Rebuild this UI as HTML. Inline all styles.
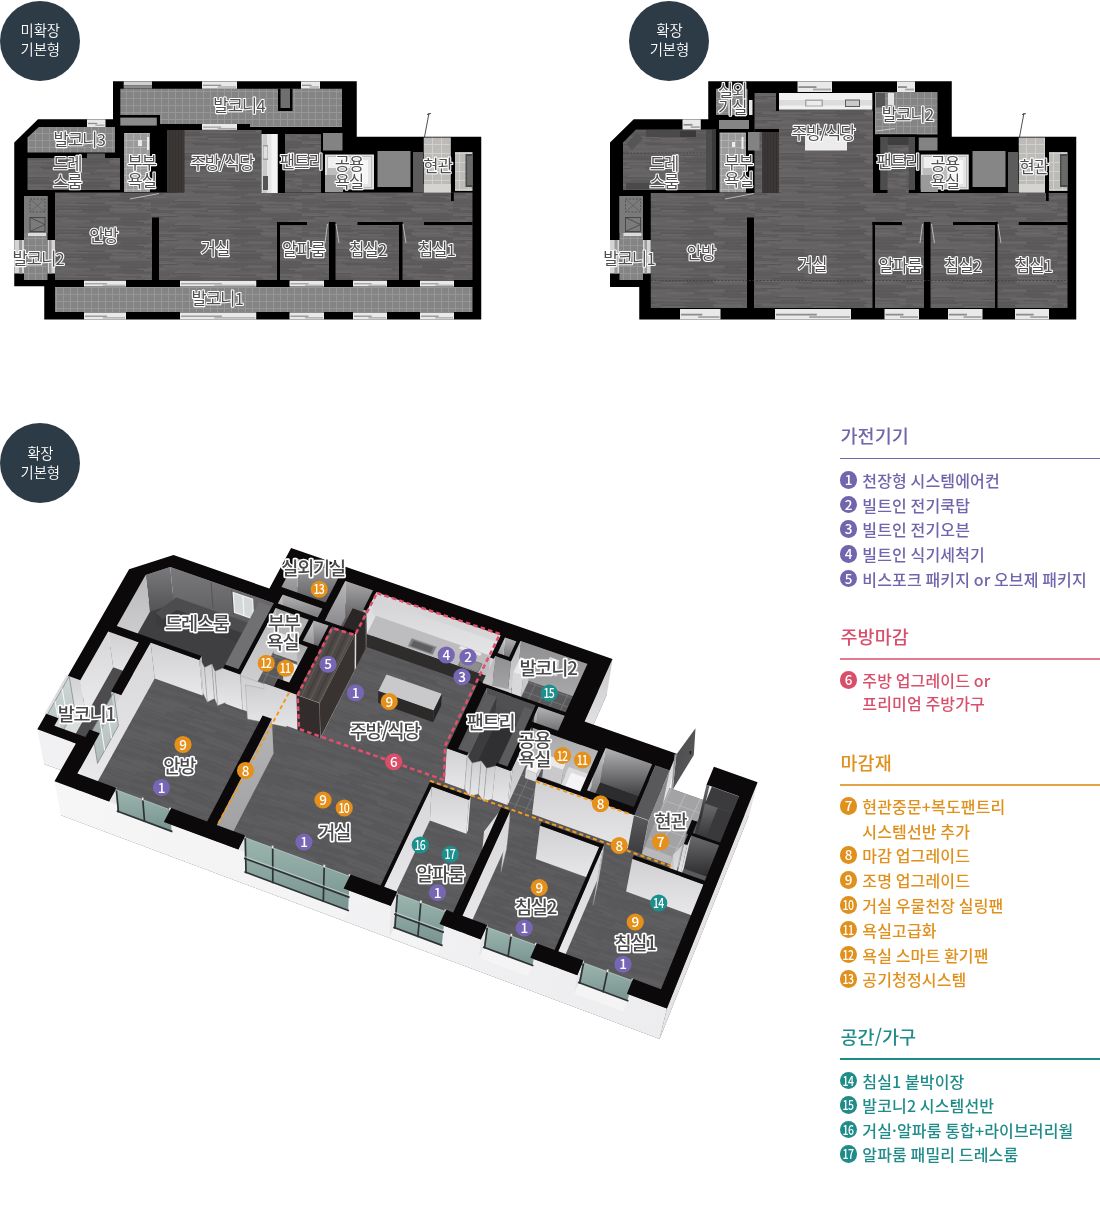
<!DOCTYPE html>
<html lang="ko">
<head>
<meta charset="utf-8">
<title>평면도 - 확장 기본형 옵션 안내</title>
<style>
html,body{margin:0;padding:0;background:#fff;}
body{width:1100px;height:1214px;position:relative;overflow:hidden;font-family:"Liberation Sans","Noto Sans CJK KR",sans-serif;}
.badge{position:absolute;width:80px;height:80px;border-radius:50%;background:#2d3b47;color:#fff;text-align:center;font-size:14.4px;line-height:18.9px;font-weight:350;letter-spacing:-0.1px;}
.badge span{display:block;text-indent:0.8px;}
.badge.one{padding-top:0}
#plans{position:absolute;left:0;top:0;width:1100px;height:1214px;}
.legend,.badge{filter:opacity(1);}/*noLCD*/
.legend{position:absolute;left:840px;width:260px;}
.legend h2{position:absolute;left:0.6px;margin:0;font-family:"Noto Sans CJK KR","Liberation Sans",sans-serif;font-size:18.5px;line-height:24px;font-weight:500;white-space:nowrap;}
.legend .rule{position:absolute;left:0;width:260px;height:1.6px;margin-top:0.3px;}
.legend ul{list-style:none;margin:0;padding:0;}
.legend li{position:absolute;left:0;height:24px;line-height:24px;font-family:"Noto Sans CJK KR","Liberation Sans",sans-serif;font-size:16px;font-weight:500;letter-spacing:0.15px;word-spacing:-1px;white-space:nowrap;padding-left:22.3px;}
.legend li i{position:absolute;left:0.1px;top:3.3px;width:17.4px;height:17.4px;border-radius:50%;color:#fff;font-family:"Noto Sans CJK KR","Liberation Sans",sans-serif;font-style:normal;font-weight:500;font-size:13.5px;line-height:17.2px;text-align:center;}
.legend li i.w span{display:inline-block;transform:scaleX(0.78);letter-spacing:-0.8px;margin-left:-3px;margin-right:-2.2px;}
.c1 h2,.c1 li{color:#7264ad}.c1 .rule,.c1 i{background:#7264ad}
.c2 h2,.c2 li{color:#d84f6b}.c2 .rule{background:#e27b90}.c2 i{background:#d84f6b}
.c3 h2,.c3 li{color:#e0901c}.c3 .rule{background:#e5a443}.c3 i{background:#e0901c}
.c4 h2,.c4 li{color:#1f8c8a}.c4 .rule,.c4 i{background:#1f8c8a}
svg text{font-family:"Noto Sans CJK KR","Liberation Sans",sans-serif;}
</style>
</head>
<body>
<svg id="plans" width="1100" height="1214" viewBox="0 0 1100 1214">
<defs>
<pattern id="wood" width="151" height="24" patternUnits="userSpaceOnUse"><rect width="151" height="24" fill="#626060"/><rect x="0.0" y="0.0" width="6.0" height="1.5" fill="#5e5c5c"/><rect x="6.0" y="0.0" width="21.3" height="1.5" fill="#595757"/><rect x="27.3" y="0.0" width="15.7" height="1.5" fill="#656363"/><rect x="43.0" y="0.0" width="22.5" height="1.5" fill="#595757"/><rect x="65.5" y="0.0" width="25.7" height="1.5" fill="#5b5959"/><rect x="91.2" y="0.0" width="33.5" height="1.5" fill="#5b5959"/><rect x="124.7" y="0.0" width="22.4" height="1.5" fill="#5b5959"/><rect x="147.1" y="0.0" width="3.9" height="1.5" fill="#5b5959"/><rect x="0.0" y="1.5" width="12.3" height="1.5" fill="#5b5959"/><rect x="12.3" y="1.5" width="23.9" height="1.5" fill="#696767"/><rect x="36.2" y="1.5" width="32.5" height="1.5" fill="#666464"/><rect x="68.7" y="1.5" width="28.0" height="1.5" fill="#5e5c5c"/><rect x="96.7" y="1.5" width="23.9" height="1.5" fill="#696767"/><rect x="120.6" y="1.5" width="30.4" height="1.5" fill="#5c5a5a"/><rect x="0.0" y="3.0" width="21.0" height="1.5" fill="#646262"/><rect x="21.0" y="3.0" width="29.3" height="1.5" fill="#666464"/><rect x="50.3" y="3.0" width="23.9" height="1.5" fill="#656363"/><rect x="74.3" y="3.0" width="19.4" height="1.5" fill="#5e5c5c"/><rect x="93.7" y="3.0" width="26.9" height="1.5" fill="#666464"/><rect x="120.6" y="3.0" width="27.4" height="1.5" fill="#595757"/><rect x="148.0" y="3.0" width="3.0" height="1.5" fill="#656363"/><rect x="0.0" y="4.5" width="14.6" height="1.5" fill="#6a6868"/><rect x="62.3" y="4.5" width="27.7" height="1.5" fill="#6a6868"/><rect x="89.9" y="4.5" width="17.5" height="1.5" fill="#5b5959"/><rect x="107.4" y="4.5" width="30.6" height="1.5" fill="#5d5b5b"/><rect x="138.1" y="4.5" width="12.9" height="1.5" fill="#686666"/><rect x="26.9" y="6.0" width="33.0" height="1.5" fill="#676565"/><rect x="60.0" y="6.0" width="23.6" height="1.5" fill="#656363"/><rect x="83.6" y="6.0" width="18.2" height="1.5" fill="#5e5c5c"/><rect x="117.8" y="6.0" width="26.3" height="1.5" fill="#595757"/><rect x="144.1" y="6.0" width="6.9" height="1.5" fill="#6a6868"/><rect x="0.0" y="7.5" width="0.2" height="1.5" fill="#6a6868"/><rect x="0.2" y="7.5" width="23.7" height="1.5" fill="#5e5c5c"/><rect x="23.9" y="7.5" width="28.8" height="1.5" fill="#696767"/><rect x="52.7" y="7.5" width="14.5" height="1.5" fill="#656363"/><rect x="109.6" y="7.5" width="21.1" height="1.5" fill="#5b5959"/><rect x="130.7" y="7.5" width="20.3" height="1.5" fill="#5b5959"/><rect x="0.0" y="9.0" width="20.9" height="1.5" fill="#5e5c5c"/><rect x="20.9" y="9.0" width="28.6" height="1.5" fill="#5a5858"/><rect x="67.4" y="9.0" width="33.8" height="1.5" fill="#656363"/><rect x="101.2" y="9.0" width="23.4" height="1.5" fill="#656363"/><rect x="124.6" y="9.0" width="26.4" height="1.5" fill="#5c5a5a"/><rect x="0.0" y="10.5" width="18.2" height="1.5" fill="#5c5a5a"/><rect x="76.4" y="10.5" width="28.5" height="1.5" fill="#595757"/><rect x="104.9" y="10.5" width="25.8" height="1.5" fill="#696767"/><rect x="130.7" y="10.5" width="20.3" height="1.5" fill="#686666"/><rect x="26.5" y="12.0" width="22.7" height="1.5" fill="#5a5858"/><rect x="49.2" y="12.0" width="19.0" height="1.5" fill="#676565"/><rect x="68.2" y="12.0" width="20.5" height="1.5" fill="#696767"/><rect x="117.5" y="12.0" width="24.3" height="1.5" fill="#5b5959"/><rect x="141.9" y="12.0" width="9.1" height="1.5" fill="#696767"/><rect x="0.0" y="13.5" width="19.1" height="1.5" fill="#5d5b5b"/><rect x="19.1" y="13.5" width="25.1" height="1.5" fill="#595757"/><rect x="44.2" y="13.5" width="17.8" height="1.5" fill="#5a5858"/><rect x="62.0" y="13.5" width="25.2" height="1.5" fill="#5c5a5a"/><rect x="87.3" y="13.5" width="24.1" height="1.5" fill="#5a5858"/><rect x="111.4" y="13.5" width="24.7" height="1.5" fill="#676565"/><rect x="0.0" y="15.0" width="16.1" height="1.5" fill="#656363"/><rect x="16.1" y="15.0" width="15.5" height="1.5" fill="#5c5a5a"/><rect x="31.5" y="15.0" width="20.1" height="1.5" fill="#595757"/><rect x="79.9" y="15.0" width="33.4" height="1.5" fill="#5a5858"/><rect x="144.9" y="15.0" width="6.1" height="1.5" fill="#6a6868"/><rect x="0.0" y="16.5" width="6.8" height="1.5" fill="#5a5858"/><rect x="6.8" y="16.5" width="25.1" height="1.5" fill="#696767"/><rect x="31.9" y="16.5" width="24.3" height="1.5" fill="#676565"/><rect x="56.2" y="16.5" width="33.7" height="1.5" fill="#595757"/><rect x="89.9" y="16.5" width="19.3" height="1.5" fill="#595757"/><rect x="109.3" y="16.5" width="29.1" height="1.5" fill="#6a6868"/><rect x="0.0" y="18.0" width="8.6" height="1.5" fill="#5d5b5b"/><rect x="8.6" y="18.0" width="17.7" height="1.5" fill="#5d5b5b"/><rect x="42.0" y="18.0" width="15.3" height="1.5" fill="#5c5a5a"/><rect x="57.4" y="18.0" width="25.1" height="1.5" fill="#686666"/><rect x="82.4" y="18.0" width="28.2" height="1.5" fill="#595757"/><rect x="110.6" y="18.0" width="17.6" height="1.5" fill="#686666"/><rect x="128.3" y="18.0" width="18.1" height="1.5" fill="#676565"/><rect x="146.4" y="18.0" width="4.6" height="1.5" fill="#595757"/><rect x="0.0" y="19.5" width="23.5" height="1.5" fill="#5c5a5a"/><rect x="23.5" y="19.5" width="22.9" height="1.5" fill="#686666"/><rect x="78.2" y="19.5" width="20.9" height="1.5" fill="#5c5a5a"/><rect x="99.1" y="19.5" width="15.1" height="1.5" fill="#5f5d5d"/><rect x="114.1" y="19.5" width="31.6" height="1.5" fill="#656363"/><rect x="145.7" y="19.5" width="5.3" height="1.5" fill="#686666"/><rect x="0.0" y="21.0" width="16.2" height="1.5" fill="#676565"/><rect x="49.4" y="21.0" width="20.2" height="1.5" fill="#656363"/><rect x="69.6" y="21.0" width="15.7" height="1.5" fill="#676565"/><rect x="109.4" y="21.0" width="16.9" height="1.5" fill="#5c5a5a"/><rect x="126.2" y="21.0" width="24.8" height="1.5" fill="#5b5959"/><rect x="0.0" y="22.5" width="1.6" height="1.5" fill="#696767"/><rect x="1.6" y="22.5" width="23.9" height="1.5" fill="#696767"/><rect x="40.4" y="22.5" width="16.8" height="1.5" fill="#5a5858"/><rect x="57.2" y="22.5" width="31.9" height="1.5" fill="#5e5c5c"/><rect x="89.0" y="22.5" width="26.7" height="1.5" fill="#5c5a5a"/><rect x="115.8" y="22.5" width="15.0" height="1.5" fill="#5b5959"/><rect x="130.8" y="22.5" width="20.2" height="1.5" fill="#5c5a5a"/></pattern>
<pattern id="tile" width="7" height="7" patternUnits="userSpaceOnUse">
<rect width="7" height="7" fill="#848484"/>
<rect width="7" height="1" fill="#969696"/>
<rect width="1" height="7" fill="#969696"/>
</pattern>
<pattern id="tileL" width="7" height="7" patternUnits="userSpaceOnUse">
<rect width="7" height="7" fill="#9a9a9a"/>
<rect width="7" height="1" fill="#b0b0b0"/>
<rect width="1" height="7" fill="#b0b0b0"/>
</pattern>
<pattern id="tileE" width="9" height="9" patternUnits="userSpaceOnUse">
<rect width="9" height="9" fill="#bdbbb8"/>
<rect width="9" height="1" fill="#d2d0cd"/>
<rect width="1" height="9" fill="#d2d0cd"/>
</pattern>
<linearGradient id="win" x1="0" y1="0" x2="0" y2="1">
<stop offset="0" stop-color="#f2f2f2"/><stop offset="0.45" stop-color="#e0e0e0"/><stop offset="0.55" stop-color="#9a9a9a"/><stop offset="0.75" stop-color="#c8c8c8"/><stop offset="1" stop-color="#ededed"/>
</linearGradient>
<filter id="ol" x="0" y="0" width="1100" height="340" filterUnits="userSpaceOnUse"><feMorphology in="SourceAlpha" operator="dilate" radius="0.6" result="d"/><feFlood flood-color="#1c1c1c" flood-opacity="0.5"/><feComposite in2="d" operator="in" result="o"/><feMerge><feMergeNode in="o"/><feMergeNode in="SourceGraphic"/></feMerge></filter><filter id="noop" x="0" y="0" width="100%" height="100%" filterUnits="userSpaceOnUse"><feOffset dx="0" dy="0"/></filter><linearGradient id="gGlass" x1="0" y1="0" x2="0" y2="1"><stop offset="0" stop-color="#9cb5af"/><stop offset="1" stop-color="#78938e"/></linearGradient>
<linearGradient id="gGlassL" x1="0" y1="0" x2="0" y2="1"><stop offset="0" stop-color="#cfd8d6"/><stop offset="1" stop-color="#9fb0ac"/></linearGradient>
<linearGradient id="gDark" x1="0" y1="0" x2="0" y2="1"><stop offset="0" stop-color="#5a5a5c"/><stop offset="1" stop-color="#3c3c3e"/></linearGradient>
<linearGradient id="gDark3" x1="0" y1="0" x2="0" y2="1"><stop offset="0" stop-color="#6a6a6c"/><stop offset="1" stop-color="#2a2a2c"/></linearGradient>
<linearGradient id="gDoor" x1="0" y1="0" x2="1" y2="1"><stop offset="0" stop-color="#4a4a4c"/><stop offset="1" stop-color="#5c5c5e"/></linearGradient>
<linearGradient id="gWard" x1="0" y1="0" x2="0" y2="1"><stop offset="0" stop-color="#7a7a7c"/><stop offset="1" stop-color="#535355"/></linearGradient>
<linearGradient id="gUp" x1="0" y1="0" x2="0" y2="1"><stop offset="0" stop-color="#d4d4d6"/><stop offset="1" stop-color="#e6e6e8"/></linearGradient>
<linearGradient id="gL" x1="0" y1="0" x2="0" y2="1"><stop offset="0" stop-color="#cdcdcf"/><stop offset="1" stop-color="#e8e8ea"/></linearGradient>
<linearGradient id="gArt" x1="0" y1="0" x2="0" y2="1"><stop offset="0" stop-color="#b5b5b7"/><stop offset="1" stop-color="#9d9d9f"/></linearGradient>
<linearGradient id="gShaftX" x1="0" y1="0" x2="0" y2="1"><stop offset="0" stop-color="#c9c9cb"/><stop offset="1" stop-color="#4c4c4e"/></linearGradient>
<linearGradient id="gShaftY" x1="0" y1="0" x2="0" y2="1"><stop offset="0" stop-color="#b4b4b6"/><stop offset="1" stop-color="#3a3a3c"/></linearGradient>
<linearGradient id="gSilX" x1="0" y1="0" x2="0" y2="1"><stop offset="0" stop-color="#b9b9bb"/><stop offset="1" stop-color="#6a6a6c"/></linearGradient>
<linearGradient id="gSilY" x1="0" y1="0" x2="0" y2="1"><stop offset="0" stop-color="#a9a9ab"/><stop offset="1" stop-color="#505052"/></linearGradient>
<linearGradient id="gBalX" x1="0" y1="0" x2="0" y2="1"><stop offset="0" stop-color="#b9b9bb"/><stop offset="1" stop-color="#d6d6d8"/></linearGradient>
<linearGradient id="gBalY" x1="0" y1="0" x2="0" y2="1"><stop offset="0" stop-color="#8f8f91"/><stop offset="1" stop-color="#a9a9ab"/></linearGradient>
<linearGradient id="gBathY" x1="0" y1="0" x2="0" y2="1"><stop offset="0" stop-color="#a4a4a6"/><stop offset="1" stop-color="#c9c9cb"/></linearGradient>
<linearGradient id="gExt" x1="60" y1="800" x2="660" y2="1020" gradientUnits="userSpaceOnUse"><stop offset="0" stop-color="#f6f6f7"/><stop offset="1" stop-color="#ededef"/></linearGradient>
<linearGradient id="gExtR" x1="0" y1="0" x2="0" y2="1"><stop offset="0" stop-color="#c9c9cb"/><stop offset="1" stop-color="#ededef"/></linearGradient>
<linearGradient id="gFx" x1="0" y1="0" x2="0" y2="1"><stop offset="0" stop-color="#d6d6d8"/><stop offset="1" stop-color="#ececee"/></linearGradient>
<linearGradient id="gFy" x1="0" y1="0" x2="0" y2="1"><stop offset="0" stop-color="#d0d0d2"/><stop offset="1" stop-color="#e8e8ea"/></linearGradient>
<pattern id="gCabTop" width="9" height="9" patternUnits="userSpaceOnUse" patternTransform="matrix(-0.47 1 1 0.36 0 0)"><rect width="9" height="9" fill="#4d4846"/><rect y="2" width="9" height="1" fill="#3d3837"/><rect y="6" width="9" height="1.4" fill="#5e5856"/></pattern>
<pattern id="tile3" width="8" height="8" patternUnits="userSpaceOnUse" patternTransform="matrix(1.33 0.47 -0.53 1.13 0 0)"><rect width="8" height="8" fill="#5a5a5c"/><rect width="8" height="0.6" fill="#77777a"/><rect width="0.6" height="8" fill="#77777a"/></pattern>
<pattern id="tileE3" width="11" height="11" patternUnits="userSpaceOnUse" patternTransform="matrix(1.33 0.47 -0.53 1.13 0 0)"><rect width="11" height="11" fill="#a3a3a5"/><rect width="11" height="0.6" fill="#bcbcbe"/><rect width="0.6" height="11" fill="#bcbcbe"/></pattern>
<pattern id="wood3" width="173" height="30" patternUnits="userSpaceOnUse" patternTransform="matrix(1 0.36 -0.5 1 0 0)"><rect width="173" height="30" fill="#5b5b5d"/><rect x="11.3" y="0.0" width="20.6" height="1.5" fill="#5e5e60"/><rect x="31.9" y="0.0" width="18.3" height="1.5" fill="#5c5c5e"/><rect x="50.2" y="0.0" width="37.4" height="1.5" fill="#575759"/><rect x="114.4" y="0.0" width="17.5" height="1.5" fill="#58585a"/><rect x="131.9" y="0.0" width="16.7" height="1.5" fill="#5d5d5f"/><rect x="148.6" y="0.0" width="20.7" height="1.5" fill="#575759"/><rect x="169.3" y="0.0" width="3.7" height="1.5" fill="#5e5e60"/><rect x="0.0" y="1.5" width="16.3" height="1.5" fill="#575759"/><rect x="16.3" y="1.5" width="21.5" height="1.5" fill="#5c5c5e"/><rect x="37.8" y="1.5" width="18.6" height="1.5" fill="#565658"/><rect x="95.4" y="1.5" width="17.3" height="1.5" fill="#5f5f61"/><rect x="112.7" y="1.5" width="17.8" height="1.5" fill="#565658"/><rect x="130.4" y="1.5" width="18.1" height="1.5" fill="#5c5c5e"/><rect x="148.5" y="1.5" width="24.5" height="1.5" fill="#58585a"/><rect x="0.0" y="3.0" width="32.7" height="1.5" fill="#575759"/><rect x="32.7" y="3.0" width="28.2" height="1.5" fill="#58585a"/><rect x="86.4" y="3.0" width="39.4" height="1.5" fill="#5f5f61"/><rect x="125.8" y="3.0" width="20.5" height="1.5" fill="#59595b"/><rect x="146.3" y="3.0" width="26.6" height="1.5" fill="#565658"/><rect x="172.9" y="3.0" width="0.1" height="1.5" fill="#59595b"/><rect x="0.0" y="4.5" width="17.8" height="1.5" fill="#5f5f61"/><rect x="17.8" y="4.5" width="25.3" height="1.5" fill="#58585a"/><rect x="43.1" y="4.5" width="30.7" height="1.5" fill="#58585a"/><rect x="73.7" y="4.5" width="29.3" height="1.5" fill="#5f5f61"/><rect x="103.0" y="4.5" width="26.1" height="1.5" fill="#59595b"/><rect x="16.4" y="6.0" width="20.9" height="1.5" fill="#59595b"/><rect x="37.3" y="6.0" width="22.0" height="1.5" fill="#58585a"/><rect x="59.3" y="6.0" width="29.7" height="1.5" fill="#59595b"/><rect x="89.0" y="6.0" width="26.8" height="1.5" fill="#5e5e60"/><rect x="0.0" y="7.5" width="30.4" height="1.5" fill="#5c5c5e"/><rect x="30.4" y="7.5" width="19.3" height="1.5" fill="#59595b"/><rect x="107.8" y="7.5" width="26.0" height="1.5" fill="#565658"/><rect x="133.8" y="7.5" width="31.0" height="1.5" fill="#5d5d5f"/><rect x="30.9" y="9.0" width="18.0" height="1.5" fill="#58585a"/><rect x="49.0" y="9.0" width="16.5" height="1.5" fill="#575759"/><rect x="65.5" y="9.0" width="38.1" height="1.5" fill="#5f5f61"/><rect x="103.6" y="9.0" width="19.4" height="1.5" fill="#575759"/><rect x="123.0" y="9.0" width="24.2" height="1.5" fill="#5e5e60"/><rect x="147.2" y="9.0" width="25.7" height="1.5" fill="#5d5d5f"/><rect x="173.0" y="9.0" width="0.0" height="1.5" fill="#565658"/><rect x="0.0" y="10.5" width="0.3" height="1.5" fill="#59595b"/><rect x="37.8" y="10.5" width="22.6" height="1.5" fill="#59595b"/><rect x="60.4" y="10.5" width="38.2" height="1.5" fill="#5d5d5f"/><rect x="130.8" y="10.5" width="22.7" height="1.5" fill="#575759"/><rect x="153.4" y="10.5" width="19.6" height="1.5" fill="#575759"/><rect x="0.0" y="12.0" width="26.9" height="1.5" fill="#5d5d5f"/><rect x="26.9" y="12.0" width="17.1" height="1.5" fill="#575759"/><rect x="44.0" y="12.0" width="31.7" height="1.5" fill="#5f5f61"/><rect x="75.7" y="12.0" width="20.8" height="1.5" fill="#5d5d5f"/><rect x="96.5" y="12.0" width="34.1" height="1.5" fill="#58585a"/><rect x="130.6" y="12.0" width="24.3" height="1.5" fill="#58585a"/><rect x="11.3" y="13.5" width="25.0" height="1.5" fill="#5e5e60"/><rect x="57.3" y="13.5" width="39.5" height="1.5" fill="#5e5e60"/><rect x="96.8" y="13.5" width="23.7" height="1.5" fill="#58585a"/><rect x="120.5" y="13.5" width="26.6" height="1.5" fill="#5f5f61"/><rect x="147.1" y="13.5" width="16.7" height="1.5" fill="#575759"/><rect x="0.0" y="15.0" width="20.2" height="1.5" fill="#565658"/><rect x="79.1" y="15.0" width="36.9" height="1.5" fill="#58585a"/><rect x="116.0" y="15.0" width="29.1" height="1.5" fill="#5e5e60"/><rect x="145.0" y="15.0" width="28.0" height="1.5" fill="#575759"/><rect x="0.0" y="16.5" width="29.4" height="1.5" fill="#575759"/><rect x="46.9" y="16.5" width="38.2" height="1.5" fill="#5d5d5f"/><rect x="85.1" y="16.5" width="24.2" height="1.5" fill="#5e5e60"/><rect x="109.2" y="16.5" width="26.1" height="1.5" fill="#565658"/><rect x="135.3" y="16.5" width="34.7" height="1.5" fill="#59595b"/><rect x="170.0" y="16.5" width="3.0" height="1.5" fill="#5d5d5f"/><rect x="24.7" y="18.0" width="16.6" height="1.5" fill="#5f5f61"/><rect x="70.2" y="18.0" width="30.7" height="1.5" fill="#58585a"/><rect x="100.8" y="18.0" width="35.5" height="1.5" fill="#58585a"/><rect x="136.3" y="18.0" width="36.7" height="1.5" fill="#565658"/><rect x="0.0" y="19.5" width="33.5" height="1.5" fill="#565658"/><rect x="33.5" y="19.5" width="18.3" height="1.5" fill="#5e5e60"/><rect x="51.8" y="19.5" width="20.8" height="1.5" fill="#59595b"/><rect x="72.6" y="19.5" width="24.6" height="1.5" fill="#5c5c5e"/><rect x="97.2" y="19.5" width="34.2" height="1.5" fill="#565658"/><rect x="131.4" y="19.5" width="16.6" height="1.5" fill="#5d5d5f"/><rect x="168.9" y="19.5" width="4.1" height="1.5" fill="#59595b"/><rect x="0.0" y="21.0" width="15.2" height="1.5" fill="#5e5e60"/><rect x="15.2" y="21.0" width="26.3" height="1.5" fill="#5c5c5e"/><rect x="41.5" y="21.0" width="36.3" height="1.5" fill="#58585a"/><rect x="77.8" y="21.0" width="24.9" height="1.5" fill="#575759"/><rect x="137.7" y="21.0" width="32.9" height="1.5" fill="#5e5e60"/><rect x="170.6" y="21.0" width="2.4" height="1.5" fill="#5f5f61"/><rect x="0.0" y="22.5" width="23.1" height="1.5" fill="#5f5f61"/><rect x="23.1" y="22.5" width="34.4" height="1.5" fill="#58585a"/><rect x="57.6" y="22.5" width="17.7" height="1.5" fill="#5d5d5f"/><rect x="112.6" y="22.5" width="32.0" height="1.5" fill="#5d5d5f"/><rect x="0.0" y="24.0" width="29.9" height="1.5" fill="#58585a"/><rect x="29.9" y="24.0" width="17.2" height="1.5" fill="#575759"/><rect x="47.1" y="24.0" width="22.2" height="1.5" fill="#5f5f61"/><rect x="115.3" y="24.0" width="25.3" height="1.5" fill="#565658"/><rect x="140.6" y="24.0" width="30.3" height="1.5" fill="#5f5f61"/><rect x="170.9" y="24.0" width="2.1" height="1.5" fill="#5d5d5f"/><rect x="0.0" y="25.5" width="3.3" height="1.5" fill="#5e5e60"/><rect x="3.3" y="25.5" width="16.6" height="1.5" fill="#575759"/><rect x="19.9" y="25.5" width="25.8" height="1.5" fill="#5c5c5e"/><rect x="71.3" y="25.5" width="26.3" height="1.5" fill="#5d5d5f"/><rect x="97.6" y="25.5" width="17.1" height="1.5" fill="#565658"/><rect x="114.7" y="25.5" width="27.2" height="1.5" fill="#575759"/><rect x="172.9" y="25.5" width="0.1" height="1.5" fill="#59595b"/><rect x="0.0" y="27.0" width="0.2" height="1.5" fill="#5e5e60"/><rect x="0.2" y="27.0" width="24.7" height="1.5" fill="#565658"/><rect x="25.0" y="27.0" width="21.7" height="1.5" fill="#575759"/><rect x="46.7" y="27.0" width="28.2" height="1.5" fill="#5d5d5f"/><rect x="74.9" y="27.0" width="33.4" height="1.5" fill="#575759"/><rect x="108.3" y="27.0" width="20.6" height="1.5" fill="#575759"/><rect x="128.8" y="27.0" width="20.7" height="1.5" fill="#575759"/><rect x="149.5" y="27.0" width="22.2" height="1.5" fill="#575759"/><rect x="0.0" y="28.5" width="15.2" height="1.5" fill="#5e5e60"/><rect x="57.1" y="28.5" width="36.1" height="1.5" fill="#575759"/><rect x="93.2" y="28.5" width="25.4" height="1.5" fill="#58585a"/><rect x="118.6" y="28.5" width="39.7" height="1.5" fill="#5d5d5f"/><rect x="158.3" y="28.5" width="14.7" height="1.5" fill="#58585a"/></pattern></defs>
<style>
.lb3{fill:#4a4a4c;stroke:#fff;stroke-width:3.2px;paint-order:stroke fill;stroke-linejoin:round;text-anchor:middle;font-weight:500;font-size:18.6px;letter-spacing:-1.2px}
.bn,.bn2{fill:#fff;text-anchor:middle;font-weight:500;font-size:13.5px}
.bn2{letter-spacing:-0.8px}
.lb{fill:#505050;stroke:#fff;stroke-width:2.1px;paint-order:stroke fill;stroke-linejoin:round;text-anchor:middle;font-weight:400;letter-spacing:-0.8px}
</style>
<g id="plan-basic">
<polygon points="113,81.25 356.75,81.25 356.75,136.75 481.25,136.75 481.25,319.5 44.25,319.5 44.25,286.25 14.25,286.25 14.25,142.5 38,119.25 113,119.25" fill="#000" />
<polygon points="120.3,88.75 342,88.75 342,127 250,127 250,124 160,124 160,115 120.3,115" fill="url(#tile)" />
<rect x="120.3" y="117.6" width="36.5" height="8" fill="#8b8b8b" />
<rect x="278" y="88.75" width="14.5" height="22.25" fill="#000" />
<rect x="280.5" y="88.75" width="9.5" height="19.25" fill="#6f6f6f" />
<rect x="123.7" y="81.4" width="28.3" height="4.1" fill="#cfcfcf" />
<rect x="123.7" y="85.5" width="28.3" height="3.1" fill="#8a8a8a" />
<rect x="202" y="81.4" width="35" height="7.3" fill="#e9e9e9" />
<rect x="203" y="84.685" width="18.25" height="1.241" fill="#8d8d8d" />
<rect x="217.75" y="86.364" width="18.25" height="1.241" fill="#a5a5a5" />
<rect x="301" y="81.4" width="19" height="7.3" fill="#e9e9e9" />
<rect x="302" y="84.685" width="9.45" height="1.241" fill="#8d8d8d" />
<rect x="309.55" y="86.364" width="9.45" height="1.241" fill="#a5a5a5" />
<rect x="202" y="124" width="35" height="5.8" fill="#e9e9e9" />
<rect x="203" y="126.61" width="18.25" height="0.986" fill="#8d8d8d" />
<rect x="217.75" y="127.944" width="18.25" height="0.986" fill="#a5a5a5" />
<polygon points="27.5,152.5 27.5,137.5 38.75,127 115,127 115,152.5" fill="url(#tile)" />
<rect x="87" y="119.4" width="18.5" height="7.6" fill="#e9e9e9" />
<rect x="88" y="122.82" width="9.175" height="1.292" fill="#8d8d8d" />
<rect x="95.325" y="124.568" width="9.175" height="1.292" fill="#a5a5a5" />
<rect x="27.5" y="158" width="92.5" height="32" fill="url(#wood)" />
<rect x="87" y="153.5" width="18" height="4.5" fill="url(#wood)" />
<rect x="124" y="133" width="26" height="59" fill="url(#tileL)" />
<rect x="138" y="140" width="4" height="6" fill="#e8e8e8" />
<rect x="147" y="137" width="2" height="13" fill="#ececec" />
<rect x="167" y="130" width="17.3" height="62.5" fill="#3d3838" />
<line x1="169.9" y1="130" x2="169.9" y2="192.5" stroke="#2e2a2a" stroke-width="0.6" />
<line x1="172.8" y1="130" x2="172.8" y2="192.5" stroke="#2e2a2a" stroke-width="0.6" />
<line x1="175.7" y1="130" x2="175.7" y2="192.5" stroke="#2e2a2a" stroke-width="0.6" />
<line x1="178.6" y1="130" x2="178.6" y2="192.5" stroke="#2e2a2a" stroke-width="0.6" />
<line x1="181.5" y1="130" x2="181.5" y2="192.5" stroke="#2e2a2a" stroke-width="0.6" />
<rect x="184.3" y="130" width="77.2" height="63" fill="url(#wood)" />
<rect x="55" y="192.5" width="417.5" height="87.5" fill="url(#wood)" />
<rect x="285" y="134" width="36" height="58.5" fill="url(#wood)" />
<rect x="261.5" y="134" width="16.3" height="59" fill="#e6e6e6" />
<rect x="262.5" y="134" width="4.5" height="59" fill="#c9c9c9" />
<rect x="263" y="145" width="5" height="15" fill="#9d9d9d" />
<rect x="263.5" y="146.5" width="4" height="12" fill="#e0e0e0" />
<rect x="263" y="176" width="5" height="14" fill="#555" />
<rect x="271.5" y="134" width="6.3" height="59" fill="#f4f4f4" />
<rect x="277.8" y="134" width="7.2" height="59" fill="#000" />
<rect x="321" y="134" width="4" height="59" fill="#000" />
<rect x="323" y="133" width="19.5" height="17.5" fill="#838383" />
<rect x="325" y="154.5" width="49" height="35" fill="#dedede" />
<rect x="327" y="156" width="45" height="32" fill="#bdbdbd" />
<rect x="328" y="157" width="22" height="11" fill="#efefef" />
<rect x="352" y="157" width="19" height="30" fill="#e4e4e4" />
<rect x="356" y="160" width="12" height="24" fill="#f6f6f6" />
<rect x="325" y="175" width="18" height="17" fill="#9a9a9a" />
<rect x="377.5" y="151" width="33" height="36" fill="#868686" />
<rect x="413" y="152" width="10" height="40.5" fill="#5c5c5c" />
<rect x="423.75" y="137.5" width="27" height="55" fill="url(#tileE)" />
<rect x="423.75" y="184" width="27" height="8.5" fill="#d6d4d0" />
<rect x="455" y="152" width="17.5" height="39" fill="url(#tileE)" />
<rect x="465.5" y="154" width="7" height="33" fill="#4a4a4a" />
<rect x="467" y="156" width="5.5" height="29" fill="#6a6a6a" />
<rect x="451" y="192.5" width="2.8" height="8.5" fill="#000" />
<line x1="424.5" y1="137" x2="429" y2="113" stroke="#222" stroke-width="0.8" />
<line x1="427" y1="114.5" x2="431" y2="113.5" stroke="#222" stroke-width="0.8" />
<rect x="152" y="217.5" width="7" height="68.5" fill="#000" />
<rect x="277" y="222" width="3" height="60" fill="#000" />
<rect x="277" y="222" width="30" height="3" fill="#000" />
<rect x="329" y="222" width="6.5" height="60" fill="#000" />
<rect x="357.5" y="222" width="45" height="3" fill="#000" />
<rect x="399" y="222" width="3.5" height="60" fill="#000" />
<rect x="424" y="222" width="48.5" height="3" fill="#000" />
<line x1="327.5" y1="224" x2="325" y2="243" stroke="#cfcfcf" stroke-width="0.8" />
<line x1="336" y1="224" x2="339" y2="243" stroke="#cfcfcf" stroke-width="0.8" />
<line x1="403" y1="224" x2="406" y2="243" stroke="#cfcfcf" stroke-width="0.8" />
<line x1="130" y1="199" x2="159" y2="193.5" stroke="#d0d0d0" stroke-width="0.8" />
<rect x="24" y="196" width="23.5" height="84" fill="url(#tile)" />
<rect x="24" y="196" width="23.5" height="37" fill="#7b7b7b" />
<rect x="30" y="199" width="15" height="13" fill="none" stroke="#444" stroke-width="0.7" stroke-dasharray="2 1.5"/>
<path d="M30 199L45 212M45 199L30 212" fill="none" stroke="#555" stroke-width="0.6"/>
<rect x="30" y="217.5" width="15" height="14" fill="none" stroke="#3c3c3c" stroke-width="0.8"/>
<path d="M30 217.5L45 224.5L30 231.5" fill="none" stroke="#3c3c3c" stroke-width="0.7"/>
<rect x="28" y="233" width="18" height="3" fill="#dcdcdc" />
<rect x="14.25" y="240" width="9.75" height="33.5" fill="#d4d4d4" />
<rect x="19" y="240" width="3" height="33.5" fill="#9a9a9a" />
<rect x="47.5" y="240" width="7.5" height="33.5" fill="#d4d4d4" />
<rect x="49" y="240" width="2.5" height="33.5" fill="#9a9a9a" />
<rect x="55" y="287" width="417.5" height="25" fill="url(#tile)" />
<rect x="84" y="280.6" width="42" height="6" fill="#e9e9e9" />
<rect x="85" y="283.3" width="22.1" height="1.02" fill="#8d8d8d" />
<rect x="102.9" y="284.68" width="22.1" height="1.02" fill="#a5a5a5" />
<rect x="84" y="312.4" width="42" height="7.1" fill="#e9e9e9" />
<rect x="85" y="315.595" width="22.1" height="1.207" fill="#8d8d8d" />
<rect x="102.9" y="317.228" width="22.1" height="1.207" fill="#a5a5a5" />
<rect x="180" y="280.6" width="76.25" height="6" fill="#e9e9e9" />
<rect x="181" y="283.3" width="40.9375" height="1.02" fill="#8d8d8d" />
<rect x="214.312" y="284.68" width="40.9375" height="1.02" fill="#a5a5a5" />
<rect x="180" y="312.4" width="76.25" height="7.1" fill="#e9e9e9" />
<rect x="181" y="315.595" width="40.9375" height="1.207" fill="#8d8d8d" />
<rect x="214.312" y="317.228" width="40.9375" height="1.207" fill="#a5a5a5" />
<rect x="289.5" y="280.6" width="34.5" height="6" fill="#e9e9e9" />
<rect x="290.5" y="283.3" width="17.975" height="1.02" fill="#8d8d8d" />
<rect x="305.025" y="284.68" width="17.975" height="1.02" fill="#a5a5a5" />
<rect x="289.5" y="312.4" width="34.5" height="7.1" fill="#e9e9e9" />
<rect x="290.5" y="315.595" width="17.975" height="1.207" fill="#8d8d8d" />
<rect x="305.025" y="317.228" width="17.975" height="1.207" fill="#a5a5a5" />
<rect x="353" y="280.6" width="34" height="6" fill="#e9e9e9" />
<rect x="354" y="283.3" width="17.7" height="1.02" fill="#8d8d8d" />
<rect x="368.3" y="284.68" width="17.7" height="1.02" fill="#a5a5a5" />
<rect x="353" y="312.4" width="34" height="7.1" fill="#e9e9e9" />
<rect x="354" y="315.595" width="17.7" height="1.207" fill="#8d8d8d" />
<rect x="368.3" y="317.228" width="17.7" height="1.207" fill="#a5a5a5" />
<rect x="420" y="280.6" width="34" height="6" fill="#e9e9e9" />
<rect x="421" y="283.3" width="17.7" height="1.02" fill="#8d8d8d" />
<rect x="435.3" y="284.68" width="17.7" height="1.02" fill="#a5a5a5" />
<rect x="420" y="312.4" width="34" height="7.1" fill="#e9e9e9" />
<rect x="421" y="315.595" width="17.7" height="1.207" fill="#8d8d8d" />
<rect x="435.3" y="317.228" width="17.7" height="1.207" fill="#a5a5a5" />
<g filter="url(#noop)">
<text class="lb" x="239" y="112" font-size="16.5">발코니4</text>
<text class="lb" x="79.3" y="146.1" font-size="16.5">발코니3</text>
<text class="lb" x="67.3" y="169.8" font-size="16.5">드레</text>
<text class="lb" x="67.3" y="188" font-size="16.5">스룸</text>
<text class="lb" x="141.8" y="168.7" font-size="16.5">부부</text>
<text class="lb" x="141.8" y="186.9" font-size="16.5">욕실</text>
<text class="lb" x="222" y="168.7" font-size="16.5">주방/식당</text>
<text class="lb" x="301.4" y="168.3" font-size="16.5">팬트리</text>
<text class="lb" x="349.1" y="169.8" font-size="16.5">공용</text>
<text class="lb" x="349.1" y="188.3" font-size="16.5">욕실</text>
<text class="lb" x="437.7" y="172" font-size="16.5">현관</text>
<text class="lb" x="103.6" y="241.7" font-size="16.5">안방</text>
<text class="lb" x="215.2" y="255.4" font-size="16.5">거실</text>
<text class="lb" x="38.2" y="264.6" font-size="16.5">발코니2</text>
<text class="lb" x="217.3" y="305.1" font-size="16.5">발코니1</text>
<text class="lb" x="303.6" y="256.3" font-size="16.5">알파룸</text>
<text class="lb" x="367.8" y="256.3" font-size="16.5">침실2</text>
<text class="lb" x="436.5" y="256.3" font-size="16.5">침실1</text>
</g>
</g>
<g id="plan-ext">
<polygon points="708.25,81.25 951.75,81.25 951.75,136.75 1076.25,136.75 1076.25,319.5 639.25,319.5 639.25,287 610,287 610,142.5 633.75,119.25 708.25,119.25" fill="#000" />
<rect x="716" y="88.75" width="31.5" height="26.25" fill="url(#tile)" />
<rect x="749" y="100" width="3.5" height="15" fill="#e6e6e6" />
<rect x="719" y="120" width="30" height="9" fill="#858585" />
<rect x="754.5" y="93" width="118.5" height="100" fill="url(#wood)" />
<rect x="776" y="88" width="3" height="23" fill="#000" />
<rect x="754.5" y="129" width="24.5" height="3" fill="#000" />
<rect x="762" y="132" width="17" height="61" fill="#3d3838" />
<line x1="764.9" y1="132" x2="764.9" y2="193" stroke="#2e2a2a" stroke-width="0.6" />
<line x1="767.8" y1="132" x2="767.8" y2="193" stroke="#2e2a2a" stroke-width="0.6" />
<line x1="770.7" y1="132" x2="770.7" y2="193" stroke="#2e2a2a" stroke-width="0.6" />
<line x1="773.6" y1="132" x2="773.6" y2="193" stroke="#2e2a2a" stroke-width="0.6" />
<line x1="776.5" y1="132" x2="776.5" y2="193" stroke="#2e2a2a" stroke-width="0.6" />
<rect x="779" y="93" width="93.5" height="16.5" fill="#f1f1f1" />
<rect x="779" y="100" width="93.5" height="5.5" fill="#dcdcdc" />
<rect x="805" y="99.5" width="18" height="7" fill="#a9a9a9" />
<rect x="806.5" y="101" width="15" height="4.5" fill="#ececec" />
<rect x="845" y="99.5" width="15" height="7.5" fill="#5a5a5a" />
<rect x="846" y="100.5" width="13" height="5.5" fill="#c9c9c9" />
<rect x="797.5" y="81.4" width="34.5" height="10.6" fill="#e9e9e9" />
<rect x="798.5" y="86.17" width="17.975" height="1.802" fill="#8d8d8d" />
<rect x="813.025" y="88.608" width="17.975" height="1.802" fill="#a5a5a5" />
<rect x="805" y="135.5" width="42" height="15" fill="#ececec" />
<rect x="875" y="92" width="62.5" height="42.5" fill="url(#tile)" />
<rect x="876" y="93" width="9" height="14.5" fill="#565656" />
<rect x="888" y="93" width="6" height="12" fill="#e4e4e4" />
<rect x="872.5" y="88" width="2.5" height="23" fill="#000" />
<rect x="897" y="81.4" width="18" height="10.6" fill="#e9e9e9" />
<rect x="898" y="86.17" width="8.9" height="1.802" fill="#8d8d8d" />
<rect x="905.1" y="88.608" width="8.9" height="1.802" fill="#a5a5a5" />
<line x1="876" y1="131" x2="895" y2="128.5" stroke="#d8d8d8" stroke-width="0.8" />
<rect x="873" y="134.5" width="44.5" height="58" fill="#000" />
<rect x="880.5" y="137" width="34.5" height="53" fill="url(#wood)" />
<rect x="880.5" y="137" width="7" height="53" fill="#4d4d4d" />
<rect x="908.75" y="137" width="6.25" height="53" fill="#4d4d4d" />
<rect x="887.5" y="137" width="21.25" height="8" fill="#3f3f3f" />
<rect x="887.5" y="190" width="21.25" height="3" fill="url(#wood)" />
<rect x="918.75" y="137.5" width="18.75" height="13" fill="#838383" />
<rect x="920.75" y="154.5" width="48" height="35" fill="#dedede" />
<rect x="922.5" y="156" width="44.5" height="32" fill="#bdbdbd" />
<rect x="923.5" y="157" width="21.5" height="11" fill="#efefef" />
<rect x="947" y="157" width="19" height="30" fill="#e4e4e4" />
<rect x="951" y="160" width="12" height="24" fill="#f6f6f6" />
<rect x="920.75" y="175" width="17.25" height="17" fill="#9a9a9a" />
<rect x="972.5" y="151" width="33" height="36" fill="#868686" />
<rect x="1008" y="152" width="10" height="40.5" fill="#5c5c5c" />
<rect x="1018.75" y="137.5" width="26.25" height="55" fill="url(#tileE)" />
<rect x="1018.75" y="184" width="26.25" height="8.5" fill="#d6d4d0" />
<rect x="1049" y="152" width="18.5" height="39" fill="url(#tileE)" />
<rect x="1060" y="154" width="7.5" height="33" fill="#4a4a4a" />
<rect x="1061.5" y="156" width="6" height="29" fill="#6a6a6a" />
<line x1="1019.5" y1="137" x2="1024" y2="113" stroke="#222" stroke-width="0.8" />
<line x1="1022" y1="114.5" x2="1026" y2="113.5" stroke="#222" stroke-width="0.8" />
<polygon points="623,190 623,142.5 636,129.5 716,129.5 716,190" fill="url(#wood)" />
<rect x="646" y="130" width="50" height="7" fill="#4a4a4a" />
<rect x="680" y="131" width="16" height="6" fill="#3a3a3a" />
<rect x="706" y="130" width="10" height="60" fill="#4b4b4b" />
<rect x="712" y="130" width="4" height="60" fill="#3a3a3a" />
<polygon points="626,144 637,133 643,139 632,150" fill="#555" />
<rect x="626" y="183" width="23" height="6.5" fill="#4a4a4a" />
<line x1="623" y1="153" x2="706" y2="153" stroke="#3a3a3a" stroke-width="0.6" stroke-dasharray="2 1.5"/>
<rect x="682.5" y="119.4" width="18.25" height="10.1" fill="#e9e9e9" />
<rect x="683.5" y="123.945" width="9.0375" height="1.717" fill="#8d8d8d" />
<rect x="690.712" y="126.268" width="9.0375" height="1.717" fill="#a5a5a5" />
<rect x="719.5" y="132.5" width="26.5" height="60" fill="url(#tileL)" />
<rect x="732" y="142" width="3" height="5" fill="#ededed" />
<rect x="741.5" y="137" width="2" height="12" fill="#efefef" />
<rect x="748" y="132" width="11.5" height="18.5" fill="#838383" />
<rect x="650.75" y="193" width="416.75" height="115" fill="url(#wood)" />
<rect x="1046" y="192.5" width="2.7" height="8.5" fill="#000" />
<rect x="747" y="217.5" width="7" height="92.5" fill="#000" />
<rect x="872.5" y="222" width="2.5" height="88" fill="#000" />
<rect x="872.5" y="222" width="29.5" height="3" fill="#000" />
<rect x="924" y="222" width="6.5" height="88" fill="#000" />
<rect x="953" y="222" width="44.5" height="3" fill="#000" />
<rect x="995" y="222" width="2.5" height="88" fill="#000" />
<rect x="1018.75" y="222" width="48.75" height="3" fill="#000" />
<line x1="651" y1="280.5" x2="1067.5" y2="280.5" stroke="#3c3c3c" stroke-width="0.7" stroke-dasharray="2 1.5"/>
<line x1="922.5" y1="224" x2="920" y2="243" stroke="#cfcfcf" stroke-width="0.8" />
<line x1="931.5" y1="224" x2="934.5" y2="243" stroke="#cfcfcf" stroke-width="0.8" />
<line x1="998" y1="224" x2="1001" y2="243" stroke="#cfcfcf" stroke-width="0.8" />
<line x1="725" y1="199" x2="754" y2="193.5" stroke="#d0d0d0" stroke-width="0.8" />
<rect x="619.5" y="196" width="23.5" height="84" fill="url(#tile)" />
<rect x="619.5" y="196" width="23.5" height="37" fill="#7b7b7b" />
<rect x="625.5" y="199" width="15" height="13" fill="none" stroke="#444" stroke-width="0.7" stroke-dasharray="2 1.5"/>
<path d="M625.5 199L640.5 212M640.5 199L625.5 212" fill="none" stroke="#555" stroke-width="0.6"/>
<rect x="625.5" y="217.5" width="15" height="14" fill="none" stroke="#3c3c3c" stroke-width="0.8"/>
<path d="M625.5 217.5L640.5 224.5L625.5 231.5" fill="none" stroke="#3c3c3c" stroke-width="0.7"/>
<rect x="623.5" y="233" width="18" height="3" fill="#dcdcdc" />
<rect x="610" y="240" width="9.5" height="33.5" fill="#d4d4d4" />
<rect x="614.5" y="240" width="3" height="33.5" fill="#9a9a9a" />
<rect x="643" y="240" width="7.75" height="33.5" fill="#d4d4d4" />
<rect x="644.5" y="240" width="2.5" height="33.5" fill="#9a9a9a" />
<rect x="680" y="309" width="40.5" height="10.5" fill="#e9e9e9" />
<rect x="681" y="313.725" width="21.275" height="1.785" fill="#8d8d8d" />
<rect x="698.225" y="316.14" width="21.275" height="1.785" fill="#a5a5a5" />
<rect x="775" y="309" width="76" height="10.5" fill="#e9e9e9" />
<rect x="776" y="313.725" width="40.8" height="1.785" fill="#8d8d8d" />
<rect x="809.2" y="316.14" width="40.8" height="1.785" fill="#a5a5a5" />
<rect x="884.5" y="309" width="34.5" height="10.5" fill="#e9e9e9" />
<rect x="885.5" y="313.725" width="17.975" height="1.785" fill="#8d8d8d" />
<rect x="900.025" y="316.14" width="17.975" height="1.785" fill="#a5a5a5" />
<rect x="948" y="309" width="34.5" height="10.5" fill="#e9e9e9" />
<rect x="949" y="313.725" width="17.975" height="1.785" fill="#8d8d8d" />
<rect x="963.525" y="316.14" width="17.975" height="1.785" fill="#a5a5a5" />
<rect x="1015" y="309" width="34" height="10.5" fill="#e9e9e9" />
<rect x="1016" y="313.725" width="17.7" height="1.785" fill="#8d8d8d" />
<rect x="1030.3" y="316.14" width="17.7" height="1.785" fill="#a5a5a5" />
<g filter="url(#noop)">
<text class="lb" x="732.3" y="97.2" font-size="16.5">실외</text>
<text class="lb" x="732.3" y="114.2" font-size="16.5">기실</text>
<text class="lb" x="664.1" y="169.7" font-size="16.5">드레</text>
<text class="lb" x="664.1" y="187.5" font-size="16.5">스룸</text>
<text class="lb" x="738.7" y="169" font-size="16.5">부부</text>
<text class="lb" x="738.7" y="186.1" font-size="16.5">욕실</text>
<text class="lb" x="823.2" y="138.8" font-size="16.5">주방/식당</text>
<text class="lb" x="907.6" y="120.9" font-size="16.5">발코니2</text>
<text class="lb" x="898" y="168.4" font-size="16.5">팬트리</text>
<text class="lb" x="944.9" y="170.1" font-size="16.5">공용</text>
<text class="lb" x="944.9" y="187.8" font-size="16.5">욕실</text>
<text class="lb" x="1033.8" y="173" font-size="16.5">현관</text>
<text class="lb" x="629" y="265.3" font-size="16.5">발코니1</text>
<text class="lb" x="700.9" y="258.6" font-size="16.5">안방</text>
<text class="lb" x="812.2" y="271.1" font-size="16.5">거실</text>
<text class="lb" x="900" y="272.4" font-size="16.5">알파룸</text>
<text class="lb" x="962.6" y="272.4" font-size="16.5">침실2</text>
<text class="lb" x="1033.6" y="272.4" font-size="16.5">침실1</text>
</g>
</g>
<g id="iso">
<polygon points="292.3,585.0 606.9,694.4 579.4,756.2 748.7,816.1 659.6,1039.0 60.9,815.3 81.7,777.8 43.9,763.9 133.6,605.9 177.1,592.0 271.0,625.0" fill="url(#wood3)" />
<polygon points="297.8,595.3 340.8,610.3 326.0,638.7 282.8,623.5" fill="#38383a" />
<polygon points="501.6,671.3 582.4,699.5 560.9,747.1 479.4,718.3" fill="url(#tile3)" />
<polygon points="113.2,667.3 143.1,678.1 91.0,771.6 60.7,760.4" fill="#4c4c4e" />
<polygon points="72.6,710.7 86.0,715.6 64.8,753.1 51.3,748.1" fill="#d9dedd" />
<polygon points="277.2,644.4 320.5,659.7 286.4,725.7 242.6,709.9" fill="url(#tile3)" />
<polygon points="527.2,761.9 592.7,785.2 573.5,828.9 507.5,805.1" fill="url(#tile3)" />
<polygon points="669.6,788.3 705.9,801.1 678.7,867.2 641.9,854.0" fill="url(#tileE3)" />
<polygon points="645.0,846.7 681.7,859.9 678.7,867.2 641.9,854.0" fill="#b9b9bb" />
<polygon points="698.7,818.6 730.5,829.9 712.0,875.7 679.9,864.1" fill="#3a3a3c" />
<polygon points="157.6,598.0 275.3,639.5 240.8,704.7 121.6,661.9" fill="#3f3f41" />
<polygon points="483.8,723.3 531.6,740.2 502.6,803.4 454.3,786.0" fill="#303032" />
<polygon points="314.3,656.4 329.1,661.6 318.7,681.9 303.9,676.6" fill="#2c2c2e" />
<polygon points="534.4,741.5 560.1,750.6 553.5,765.4 527.6,756.3" fill="#2c2c2e" />
<polygon points="501.7,673.3 512.8,677.2 505.7,692.5 494.5,688.6" fill="#2c2c2e" />
<polygon points="600.1,782.3 645.6,798.4 627.7,840.5 581.8,824.0" fill="#2c2c2e" />
<polygon points="284.0,630.9 323.0,644.6 318.3,653.6 279.3,639.9" fill="#2c2c2e" />
<polygon points="145.7,575.0 170.2,567.0 173.9,603.7 149.9,611.7" fill="url(#gWard)" />
<polygon points="296.8,558.5 340.6,573.6 340.8,610.3 297.8,595.3" fill="url(#gSilY)" />
<polygon points="281.5,587.1 296.8,558.5 297.8,595.3 282.8,623.5" fill="url(#gSilX)" />
<line x1="190.5" y1="575.1" x2="192.7" y2="600.5" stroke="#4a4a4c" stroke-width="0.7"/>
<polygon points="170.2,567.0 273.8,603.2 275.3,639.5 173.9,603.7" fill="url(#gWard)" />
<line x1="143.7" y1="589.3" x2="130.3" y2="613.0" stroke="#555557" stroke-width="0.8"/>
<line x1="144.4" y1="594.9" x2="131.0" y2="618.5" stroke="#555557" stroke-width="0.8"/>
<line x1="145.0" y1="600.4" x2="131.7" y2="624.0" stroke="#555557" stroke-width="0.8"/>
<line x1="145.7" y1="605.8" x2="132.3" y2="629.4" stroke="#555557" stroke-width="0.8"/>
<line x1="146.3" y1="611.3" x2="133.0" y2="634.8" stroke="#555557" stroke-width="0.8"/>
<polygon points="176.8,610.1 162.6,619.2 163.8,629.9 177.9,620.9" fill="#39393b" />
<polygon points="162.6,619.2 155.6,612.8 156.8,623.6 163.8,629.9" fill="#3b3b3d" />
<line x1="211.1" y1="582.3" x2="213.0" y2="607.6" stroke="#4a4a4c" stroke-width="0.7"/>
<polygon points="345.3,580.9 373.0,590.5 372.4,626.9 345.3,617.5" fill="url(#gSilY)" />
<polygon points="116.8,625.9 145.7,575.0 149.9,611.7 121.6,661.9" fill="url(#gBalX)" />
<polygon points="155.6,612.8 176.3,597.5 260.2,627.1 254.6,637.6 176.8,610.1 162.6,619.2" fill="#4c4c4e" />
<line x1="231.7" y1="589.5" x2="233.4" y2="614.8" stroke="#4a4a4c" stroke-width="0.7"/>
<polygon points="335.5,587.5 327.1,603.7 327.5,638.9 335.8,622.9" fill="url(#gL)" stroke="#9a9a9c" stroke-width="0.4"/>
<polygon points="126.0,641.0 211.8,671.6 206.1,682.0 120.2,651.2" fill="#58585a" />
<polygon points="254.6,637.6 176.8,610.1 177.9,620.9 255.2,648.3" fill="#3b3b3d" />
<polygon points="277.9,603.6 282.7,594.5 284.0,630.9 279.3,639.9" fill="url(#gShaftX)" />
<polygon points="233.2,592.5 252.6,599.3 253.6,619.1 234.5,612.4" fill="#d4d8d8" stroke="#f2f2f2" stroke-width="1.2"/>
<line x1="242.9" y1="595.9" x2="244.0" y2="615.7" stroke="#f4f4f4" stroke-width="1.2"/>
<polygon points="324.7,620.4 345.3,580.9 345.3,617.5 325.2,656.5" fill="url(#gSilX)" />
<polygon points="282.7,594.5 322.5,608.4 323.0,644.6 284.0,630.9" fill="url(#gShaftY)" />
<polygon points="120.2,651.2 206.1,682.0 207.0,692.6 121.6,661.9" fill="#444446" />
<polygon points="366.9,610.7 376.3,592.3 375.7,628.7 366.5,646.9" fill="url(#gFx)" />
<polygon points="260.2,627.1 254.6,637.6 255.2,648.3 260.8,637.8" fill="#39393b" />
<polygon points="363.3,609.4 366.9,610.7 366.5,646.9 362.9,645.6" fill="url(#gSilY)" />
<polygon points="376.3,592.3 500.6,635.3 497.4,671.2 375.7,628.7" fill="url(#gFy)" />
<polygon points="275.7,608.1 308.8,619.7 309.6,655.8 277.2,644.4" fill="url(#gBathY)" />
<polygon points="376.3,592.3 499.9,635.0 496.8,641.7 373.0,598.8" fill="#d6d6d8" />
<polygon points="211.8,671.6 206.1,682.0 207.0,692.6 212.6,682.2" fill="#3f3f41" />
<polygon points="277.0,631.7 306.7,642.2 302.7,649.8 273.0,639.3" fill="#e4e4e6" />
<polygon points="373.0,598.8 496.8,641.7 495.4,658.0 372.8,615.3" fill="url(#gUp)" />
<polygon points="258.9,601.8 272.2,606.5 238.5,669.6 225.0,664.8" fill="#707072" />
<polygon points="376.0,615.8 497.9,658.2 489.0,676.8 366.7,634.0" fill="#bdbdbf" />
<polygon points="352.7,608.3 365.8,612.9 354.8,634.4 341.6,629.8" fill="#2a2625" />
<polygon points="273.0,639.3 302.7,649.8 303.1,664.0 273.6,653.5" fill="#c6c6c8" />
<polygon points="108.2,631.4 138.7,642.3 143.1,678.1 113.2,667.3" fill="url(#gFy)" />
<polygon points="272.2,606.5 238.5,669.6 240.8,704.7 273.8,642.4" fill="#4a4a4c" />
<polygon points="313.6,620.4 328.7,625.6 329.1,661.6 314.3,656.4" fill="url(#gShaftY)" />
<polygon points="306.7,642.2 302.7,649.8 303.1,664.0 307.0,656.4" fill="#bdbdbf" />
<polygon points="365.8,612.9 354.8,634.4 354.6,670.3 365.4,649.0" fill="#2f2a29" />
<polygon points="411.8,638.2 436.6,646.8 432.6,655.0 407.8,646.3" fill="#7b7c7e" stroke="#a9a9ab" stroke-width="0.8"/>
<polygon points="413.6,640.7 433.2,647.5 430.5,653.0 410.9,646.1" fill="#5d5e60" />
<polygon points="302.9,640.8 313.6,620.4 314.3,656.4 303.9,676.6" fill="url(#gShaftX)" />
<polygon points="366.7,634.0 489.0,676.8 488.0,689.5 366.5,646.9" fill="#2f2c2c" />
<polygon points="341.6,629.8 354.8,634.4 354.6,670.3 341.7,665.7" fill="#332e2d" />
<polygon points="499.9,635.0 496.8,641.7 495.4,658.0 498.5,651.4" fill="#e2e2e4" />
<polygon points="505.0,637.4 516.4,641.4 512.8,677.2 501.7,673.3" fill="url(#gShaftY)" />
<polygon points="460.4,645.8 481.5,653.1 480.2,655.9 459.0,648.5" fill="#e9e9eb" />
<polygon points="80.3,680.3 108.2,631.4 113.2,667.3 86.0,715.6" fill="url(#gFx)" />
<polygon points="240.4,674.3 275.7,608.1 277.2,644.4 242.7,709.7" fill="url(#gBalX)" />
<polygon points="497.9,658.2 489.0,676.8 488.0,689.5 496.7,670.9" fill="#2f2c2c" />
<polygon points="497.7,652.9 505.0,637.4 501.7,673.3 494.5,688.6" fill="url(#gShaftX)" />
<polygon points="536.5,652.5 545.9,655.7 545.0,657.6 535.6,654.3" fill="#e3e3e5" />
<polygon points="288.7,661.7 299.0,665.4 293.3,676.3 283.0,672.6" fill="#efeff1" />
<polygon points="535.6,654.3 545.0,657.6 543.3,672.0 534.0,668.7" fill="#d9d9db" />
<polygon points="545.9,655.7 545.0,657.6 543.3,672.0 544.2,670.1" fill="#d0d0d2" />
<polygon points="520.5,640.9 587.4,664.0 582.4,699.5 516.9,676.7" fill="url(#gBalY)" />
<polygon points="462.3,657.1 482.0,663.9 478.1,672.2 458.3,665.2" fill="#8e8e90" stroke="#5a5a5c" stroke-width="0.6"/>
<polygon points="150.6,642.5 199.3,659.9 202.4,695.5 154.7,678.4" fill="url(#gFy)" />
<polygon points="299.0,665.4 293.3,676.3 293.6,685.1 299.3,674.2" fill="#cfcfd1" />
<polygon points="549.9,657.1 559.3,660.4 558.4,662.3 549.0,659.0" fill="#e3e3e5" />
<polygon points="510.9,661.4 520.5,640.9 516.9,676.7 507.4,696.9" fill="url(#gBalX)" />
<polygon points="549.0,659.0 558.4,662.3 556.6,676.6 547.3,673.3" fill="#d9d9db" />
<polygon points="559.3,660.4 558.4,662.3 556.6,676.6 557.5,674.7" fill="#d0d0d2" />
<polygon points="296.6,643.0 307.8,646.9 308.6,682.7 297.7,678.8" fill="url(#gBathY)" />
<polygon points="520.5,657.2 530.5,660.6 523.3,676.1 513.3,672.6" fill="#e9e9eb" />
<polygon points="530.5,660.6 523.3,676.1 521.0,697.2 528.2,681.9" fill="#c9c9cb" />
<polygon points="283.0,672.6 293.3,676.3 293.6,685.1 283.3,681.4" fill="#d8d8da" />
<polygon points="225.0,664.8 238.5,669.6 240.8,704.7 227.6,699.9" fill="#555557" />
<polygon points="199.3,659.9 201.4,656.0 204.5,691.6 202.4,695.5" fill="url(#gFx)" />
<polygon points="513.3,672.6 523.3,676.1 521.0,697.2 511.2,693.8" fill="#d8d8da" />
<polygon points="495.2,655.9 510.9,661.4 507.4,696.9 492.0,691.5" fill="url(#gBalY)" />
<polygon points="490.1,657.4 493.8,658.7 490.7,694.3 487.1,693.0" fill="url(#gFy)" />
<polygon points="66.6,675.3 80.3,680.3 86.0,715.6 72.6,710.7" fill="url(#gFy)" />
<polygon points="200.3,659.3 204.5,667.5 207.4,701.9 203.3,693.8" fill="url(#gL)" stroke="#9a9a9c" stroke-width="0.4"/>
<polygon points="204.5,667.5 211.8,664.1 214.5,698.5 207.4,701.9" fill="url(#gL)" stroke="#9a9a9c" stroke-width="0.4"/>
<polygon points="211.8,664.1 215.0,671.2 217.7,705.6 214.5,698.5" fill="url(#gL)" stroke="#9a9a9c" stroke-width="0.4"/>
<polygon points="215.0,671.2 223.9,667.7 226.4,702.2 217.7,705.6" fill="url(#gL)" stroke="#9a9a9c" stroke-width="0.4"/>
<polygon points="332.0,626.4 354.8,634.4 319.6,703.3 296.5,695.1" fill="url(#gCabTop)" />
<polygon points="482.2,683.1 495.2,655.9 492.0,691.5 479.4,718.3" fill="url(#gBalX)" />
<polygon points="319.8,702.9 356.3,631.4 356.1,667.4 320.4,737.9" fill="url(#gFx)" />
<polygon points="222.9,668.3 240.3,674.5 242.6,709.9 225.5,703.8" fill="url(#gFy)" />
<polygon points="44.8,713.2 66.6,675.3 72.6,710.7 51.3,748.1" fill="url(#gFx)" />
<polygon points="386.5,674.4 441.8,693.8 433.7,710.5 378.3,690.9" fill="#c9c9cb" />
<polygon points="354.8,634.4 319.6,703.3 320.1,738.3 354.6,670.3" fill="#383331" />
<polygon points="240.4,675.5 264.0,683.9 265.7,718.1 242.6,709.8" fill="url(#gL)" stroke="#9a9a9c" stroke-width="0.4"/>
<polygon points="240.3,674.5 240.4,674.3 242.7,709.7 242.6,709.9" fill="url(#gBalX)" />
<polygon points="69.2,676.3 47.5,714.2 53.6,747.4 74.8,709.9" fill="url(#gGlassL)" stroke="#7b8381" stroke-width="0.7" fill-opacity="0.8"/>
<line x1="62.1" y1="688.6" x2="67.9" y2="722.1" stroke="#f4f4f4" stroke-width="1.1"/>
<line x1="55.0" y1="701.1" x2="60.9" y2="734.4" stroke="#f4f4f4" stroke-width="1.1"/>
<polygon points="111.1,691.4 121.2,695.1 126.1,730.2 116.1,726.6" fill="url(#gFy)" />
<polygon points="378.3,690.9 433.7,710.5 433.1,722.3 378.1,702.8" fill="#2c2929" />
<polygon points="441.8,693.8 433.7,710.5 433.1,722.3 441.1,705.7" fill="#252323" />
<polygon points="483.1,683.5 511.6,689.6 508.3,723.0 480.3,717.0" fill="url(#gL)" stroke="#9a9a9c" stroke-width="0.4"/>
<polygon points="245.4,684.8 285.2,693.0 286.5,727.0 247.5,719.0" fill="url(#gL)" stroke="#9a9a9c" stroke-width="0.4"/>
<polygon points="486.8,688.1 535.6,705.2 531.6,740.2 483.8,723.3" fill="#505052" />
<polygon points="77.4,773.5 150.6,642.5 154.7,678.4 83.3,807.5" fill="url(#gFx)" />
<polygon points="263.9,682.9 319.8,702.9 320.4,737.9 265.6,718.2" fill="url(#gFy)" />
<polygon points="496.0,706.0 523.6,715.7 519.1,725.4 491.5,715.7" fill="#4c4c4e" />
<polygon points="54.4,725.7 58.6,718.3 64.8,753.1 60.7,760.4" fill="url(#gFx)" />
<polygon points="113.7,692.4 92.2,730.6 97.5,763.5 118.4,725.8" fill="url(#gGlassL)" stroke="#7b8381" stroke-width="0.7" fill-opacity="0.8"/>
<line x1="106.7" y1="704.8" x2="111.6" y2="738.1" stroke="#f4f4f4" stroke-width="1.1"/>
<line x1="99.6" y1="717.4" x2="104.7" y2="750.5" stroke="#f4f4f4" stroke-width="1.1"/>
<polygon points="612.5,658.9 584.5,721.5 579.4,756.2 606.9,694.4" fill="url(#gExtR)"/>
<polygon points="523.6,715.7 519.1,725.4 516.9,746.2 521.3,736.5" fill="#38383a" />
<polygon points="296.5,695.1 319.6,703.3 320.1,738.3 297.5,730.2" fill="#322d2c" />
<polygon points="491.5,715.7 519.1,725.4 516.9,746.2 489.6,736.5" fill="#303032" />
<polygon points="538.4,706.6 564.8,715.8 560.1,750.6 534.4,741.5" fill="url(#gShaftY)" />
<polygon points="531.6,721.5 538.4,706.6 534.4,741.5 527.6,756.3" fill="url(#gShaftX)" />
<polygon points="458.0,748.9 486.8,688.1 483.8,723.3 455.6,783.3" fill="#58585a" />
<polygon points="486.3,693.5 496.8,697.1 468.2,758.0 457.6,754.2" fill="#5c5c5e" />
<polygon points="496.8,697.1 468.2,758.0 466.0,787.0 494.1,726.9" fill="#3c3c3e" />
<polygon points="531.2,727.2 598.1,750.9 592.7,785.2 527.2,761.9" fill="url(#gBathY)" />
<polygon points="524.6,706.9 535.0,710.5 506.8,771.7 496.3,768.0" fill="#5c5c5e" />
<polygon points="535.0,710.5 506.8,771.7 503.9,800.6 531.6,740.2" fill="#3c3c3e" />
<polygon points="531.6,757.0 542.3,760.8 536.7,773.4 525.8,769.5" fill="#f1f1f3" />
<polygon points="547.7,755.3 566.6,762.0 563.0,770.0 544.0,763.3" fill="#e9e9eb" />
<polygon points="542.3,760.8 536.7,773.4 535.6,781.8 541.3,769.3" fill="#cfcfd1" />
<polygon points="566.6,762.0 563.0,770.0 561.1,784.3 564.7,776.3" fill="#bdbdbf" />
<polygon points="605.7,747.9 652.1,764.2 645.6,798.4 600.1,782.3" fill="url(#gShaftY)" />
<polygon points="37.3,729.2 75.9,743.4 81.7,777.8 43.9,763.9" fill="#f1f1f3"/>
<polygon points="544.0,763.3 563.0,770.0 561.1,784.3 542.2,777.6" fill="#c9c9cb" />
<polygon points="525.8,769.5 536.7,773.4 535.6,781.8 524.9,778.0" fill="#dadadc" />
<polygon points="512.7,767.6 531.2,727.2 527.2,761.9 509.1,801.7" fill="url(#gBalX)" />
<polygon points="706.5,784.7 711.8,786.6 703.9,820.4 698.7,818.6" fill="url(#gDark3)" />
<polygon points="457.6,754.2 468.2,758.0 466.0,787.0 455.6,783.3" fill="#464648" />
<polygon points="711.8,786.6 739.0,796.2 730.5,829.9 703.9,820.4" fill="url(#gDark3)" />
<polygon points="446.8,748.2 467.1,755.4 464.5,789.7 444.7,782.6" fill="url(#gFy)" />
<polygon points="467.1,755.4 468.4,752.6 465.8,786.9 464.5,789.7" fill="url(#gFx)" />
<polygon points="587.0,790.2 605.7,747.9 600.1,782.3 581.8,824.0" fill="url(#gShaftX)" />
<polygon points="568.8,767.1 593.2,775.7 576.4,814.0 551.8,805.2" fill="#dcdcde" />
<polygon points="593.2,775.7 576.4,814.0 574.9,824.0 591.6,785.9" fill="#c4c4c6" />
<polygon points="467.3,755.9 472.2,763.1 469.6,796.2 464.7,789.1" fill="url(#gL)" stroke="#9a9a9c" stroke-width="0.4"/>
<polygon points="713.9,766.8 757.6,782.2 748.7,816.1 705.9,800.9" fill="#ececee"/>
<polygon points="571.2,772.6 587.5,778.4 573.7,809.7 557.3,803.8" fill="#f4f4f6" />
<polygon points="472.2,763.1 481.2,760.9 478.4,794.0 469.6,796.2" fill="url(#gL)" stroke="#9a9a9c" stroke-width="0.4"/>
<polygon points="648.7,820.2 677.1,752.9 670.0,787.2 642.1,853.5" fill="url(#gFx)" />
<polygon points="711.8,786.8 739.0,796.4 732.3,813.0 705.0,803.4" fill="#3b3b3d" />
<polygon points="496.3,768.0 506.8,771.7 503.9,800.6 493.5,796.9" fill="#464648" />
<polygon points="481.2,760.9 486.6,768.2 483.7,801.3 478.4,794.0" fill="url(#gL)" stroke="#9a9a9c" stroke-width="0.4"/>
<polygon points="739.0,796.4 732.3,813.0 723.9,846.3 730.5,829.9" fill="#2e2e30" />
<polygon points="486.6,768.2 495.6,766.0 492.5,799.1 483.7,801.3" fill="url(#gL)" stroke="#9a9a9c" stroke-width="0.4"/>
<polygon points="495.5,765.5 511.0,771.1 507.5,805.1 492.3,799.7" fill="url(#gFy)" />
<polygon points="511.0,771.1 512.7,767.6 509.1,801.7 507.5,805.1" fill="url(#gFx)" />
<polygon points="655.4,765.4 669.7,770.4 648.5,820.7 634.0,815.5" fill="#59595b" />
<polygon points="705.0,803.4 732.3,813.0 723.9,846.3 697.2,836.8" fill="url(#gDark3)" />
<polygon points="669.7,770.4 648.5,820.7 641.9,854.0 662.7,804.5" fill="#8c8c8e" />
<polygon points="216.7,824.9 271.9,718.8 273.5,753.6 219.6,858.3" fill="url(#gArt)" />
<polygon points="551.8,805.2 576.4,814.0 574.9,824.0 550.4,815.2" fill="#cdcdcf" />
<polygon points="536.2,780.1 648.7,820.2 642.1,853.5 532.1,814.0" fill="url(#gFy)" />
<polygon points="717.8,807.9 732.3,813.0 720.2,842.8 705.7,837.6" fill="#39393b" />
<polygon points="732.3,813.0 720.2,842.8 712.0,875.7 723.9,846.3" fill="#2e2e30" />
<polygon points="692.8,832.9 697.4,821.7 689.7,855.0 685.2,866.0" fill="url(#gDark3)" />
<polygon points="431.7,786.6 469.0,800.0 466.3,833.7 429.9,820.4" fill="url(#gFy)" />
<polygon points="634.0,815.5 648.5,820.7 641.9,854.0 627.7,848.9" fill="url(#gDark)" />
<polygon points="469.0,800.0 470.7,796.5 468.0,830.2 466.3,833.7" fill="url(#gFx)" />
<polygon points="686.3,833.6 688.0,834.2 680.5,867.3 678.9,866.7" fill="url(#gDark3)" />
<polygon points="705.7,837.6 720.2,842.8 712.0,875.7 697.9,870.6" fill="url(#gDark3)" />
<polygon points="691.3,835.4 719.2,845.3 711.0,878.3 683.7,868.5" fill="url(#gDark3)" />
<polygon points="687.3,845.0 691.3,835.4 683.7,868.5 679.8,878.0" fill="url(#gFx)" />
<polygon points="684.0,843.9 687.3,845.0 679.8,878.0 676.6,876.9" fill="url(#gFy)" />
<polygon points="682.7,844.5 672.7,854.8 665.7,886.7 675.5,876.5" fill="url(#gL)" stroke="#9a9a9c" stroke-width="0.4"/>
<polygon points="498.6,812.4 484.0,831.6 482.1,852.3 493.5,824.2" fill="#dededf"/>
<polygon points="510.0,816.5 504.4,839.7 501.0,871.8 506.5,848.9" fill="url(#gL)" stroke="#9a9a9c" stroke-width="0.4"/>
<polygon points="540.0,825.6 599.1,846.9 593.5,879.8 535.8,858.9" fill="url(#gFy)" />
<polygon points="602.6,848.1 604.2,844.5 598.5,877.5 597.0,881.1" fill="url(#gFx)" />
<polygon points="672.7,854.8 673.1,869.7 666.1,901.3 665.7,886.7" fill="url(#gL)" stroke="#9a9a9c" stroke-width="0.4"/>
<polygon points="384.1,886.8 431.7,786.6 429.9,820.4 383.2,919.2" fill="url(#gFx)" />
<polygon points="632.4,858.8 703.4,884.4 695.5,916.8 626.1,891.6" fill="url(#gFy)" />
<polygon points="603.6,850.3 598.4,873.8 593.0,905.3 598.1,882.2" fill="url(#gL)" stroke="#9a9a9c" stroke-width="0.4"/>
<polygon points="115.9,789.1 109.1,801.6 112.1,821.3 118.8,808.9" fill="#e6e6e8" />
<polygon points="118.8,808.9 172.8,828.9 166.2,841.4 112.1,821.3" fill="#f4f4f5" />
<polygon points="462.4,915.8 510.2,810.7 506.6,844.2 459.8,947.7" fill="url(#gFx)" />
<polygon points="757.6,782.2 666.9,1008.5 659.6,1039.0 748.7,816.1" fill="#e4e4e6"/>
<polygon points="558.3,951.2 602.6,848.1 597.0,881.1 553.5,982.6" fill="url(#gFx)" />
<polygon points="244.8,836.8 238.3,849.5 240.6,881.2 247.0,868.6" fill="#e6e6e8" />
<polygon points="54.5,781.3 666.9,1008.5 659.6,1039.0 60.9,815.3" fill="url(#gExt)"/>
<polygon points="247.0,868.6 349.8,906.9 343.7,919.7 240.6,881.2" fill="#f4f4f5" />
<polygon points="395.7,924.0 443.4,941.7 437.5,954.7 389.7,936.9" fill="#f4f4f5" />
<polygon points="396.8,893.0 390.7,906.0 389.7,936.9 395.7,924.0" fill="#e6e6e8" />
<polygon points="484.9,944.8 533.6,962.9 527.9,976.1 479.0,957.9" fill="#f4f4f5" />
<polygon points="486.7,926.2 480.8,939.5 479.0,957.9 484.9,944.8" fill="#e6e6e8" />
<polygon points="579.9,980.1 628.6,998.2 623.1,1011.6 574.2,993.4" fill="#f4f4f5" />
<polygon points="583.0,961.8 577.3,975.3 574.2,993.4 579.9,980.1" fill="#e6e6e8" />
<polygon points="115.6,789.7 170.2,809.9 171.6,831.3 117.6,811.2" fill="url(#gGlass)"/>
<polygon points="244.5,837.4 349.6,876.3 348.2,910.4 245.2,872.1" fill="url(#gGlass)"/>
<polygon points="396.5,893.6 445.2,911.6 441.8,945.3 394.1,927.6" fill="url(#gGlass)"/>
<polygon points="486.4,926.9 535.8,945.1 532.6,965.4 483.8,947.3" fill="url(#gGlass)"/>
<polygon points="582.7,962.5 632.2,980.7 627.6,1000.7 578.8,982.6" fill="url(#gGlass)"/>
<line x1="142.8" y1="799.8" x2="144.5" y2="821.2" stroke="#2f3234" stroke-width="1.7" stroke-linecap="square"/>
<line x1="117.6" y1="811.2" x2="171.6" y2="831.3" stroke="#2f3234" stroke-width="1.7" stroke-linecap="square"/>
<line x1="116.4" y1="790.0" x2="118.4" y2="811.5" stroke="#2f3234" stroke-width="1.7" stroke-linecap="square"/>
<line x1="272.7" y1="847.8" x2="272.8" y2="882.4" stroke="#2f3234" stroke-width="1.7" stroke-linecap="square"/>
<line x1="324.2" y1="866.9" x2="323.3" y2="901.2" stroke="#2f3234" stroke-width="1.7" stroke-linecap="square"/>
<line x1="244.9" y1="858.5" x2="348.7" y2="897.1" stroke="#2f3234" stroke-width="1.7" stroke-linecap="square"/>
<line x1="245.2" y1="872.1" x2="348.2" y2="910.4" stroke="#2f3234" stroke-width="1.7" stroke-linecap="square"/>
<line x1="245.3" y1="837.7" x2="246.0" y2="872.4" stroke="#2f3234" stroke-width="1.7" stroke-linecap="square"/>
<line x1="420.8" y1="902.6" x2="417.9" y2="936.4" stroke="#2f3234" stroke-width="1.7" stroke-linecap="square"/>
<line x1="395.0" y1="914.3" x2="443.1" y2="932.1" stroke="#2f3234" stroke-width="1.7" stroke-linecap="square"/>
<line x1="394.1" y1="927.6" x2="441.8" y2="945.3" stroke="#2f3234" stroke-width="1.7" stroke-linecap="square"/>
<line x1="397.4" y1="893.9" x2="394.9" y2="927.9" stroke="#2f3234" stroke-width="1.7" stroke-linecap="square"/>
<line x1="511.1" y1="936.0" x2="508.1" y2="956.3" stroke="#2f3234" stroke-width="1.7" stroke-linecap="square"/>
<line x1="483.8" y1="947.3" x2="532.6" y2="965.4" stroke="#2f3234" stroke-width="1.7" stroke-linecap="square"/>
<line x1="487.3" y1="927.2" x2="484.6" y2="947.6" stroke="#2f3234" stroke-width="1.7" stroke-linecap="square"/>
<line x1="607.4" y1="971.6" x2="603.2" y2="991.6" stroke="#2f3234" stroke-width="1.7" stroke-linecap="square"/>
<line x1="578.8" y1="982.6" x2="627.6" y2="1000.7" stroke="#2f3234" stroke-width="1.7" stroke-linecap="square"/>
<line x1="583.6" y1="962.8" x2="579.7" y2="982.9" stroke="#2f3234" stroke-width="1.7" stroke-linecap="square"/>
<line x1="244.9" y1="856.7" x2="348.8" y2="895.3" stroke="#d5dcda" stroke-width="0.7"/>
<line x1="395.2" y1="912.5" x2="443.3" y2="930.4" stroke="#d5dcda" stroke-width="0.7"/>
<line x1="115.6" y1="789.7" x2="170.2" y2="809.9" stroke="#b9cbc7" stroke-width="0.8"/>
<line x1="244.5" y1="837.4" x2="349.6" y2="876.3" stroke="#b9cbc7" stroke-width="0.8"/>
<line x1="396.5" y1="893.6" x2="445.2" y2="911.6" stroke="#b9cbc7" stroke-width="0.8"/>
<line x1="486.4" y1="926.9" x2="535.8" y2="945.1" stroke="#b9cbc7" stroke-width="0.8"/>
<line x1="582.7" y1="962.5" x2="632.2" y2="980.7" stroke="#b9cbc7" stroke-width="0.8"/>
<rect x="114.3" y="787.4" width="2.2" height="3" fill="#ececec" stroke="#6a6a6c" stroke-width="0.4"/>
<rect x="141.6" y="797.4" width="2.2" height="3" fill="#ececec" stroke="#6a6a6c" stroke-width="0.4"/>
<rect x="169.0" y="807.6" width="2.2" height="3" fill="#ececec" stroke="#6a6a6c" stroke-width="0.4"/>
<rect x="243.3" y="835.1" width="2.2" height="3" fill="#ececec" stroke="#6a6a6c" stroke-width="0.4"/>
<rect x="271.5" y="845.5" width="2.2" height="3" fill="#ececec" stroke="#6a6a6c" stroke-width="0.4"/>
<rect x="323.1" y="864.6" width="2.2" height="3" fill="#ececec" stroke="#6a6a6c" stroke-width="0.4"/>
<rect x="348.5" y="874.0" width="2.2" height="3" fill="#ececec" stroke="#6a6a6c" stroke-width="0.4"/>
<rect x="395.5" y="891.3" width="2.2" height="3" fill="#ececec" stroke="#6a6a6c" stroke-width="0.4"/>
<rect x="419.8" y="900.3" width="2.2" height="3" fill="#ececec" stroke="#6a6a6c" stroke-width="0.4"/>
<rect x="444.2" y="909.3" width="2.2" height="3" fill="#ececec" stroke="#6a6a6c" stroke-width="0.4"/>
<rect x="485.4" y="924.6" width="2.2" height="3" fill="#ececec" stroke="#6a6a6c" stroke-width="0.4"/>
<rect x="510.1" y="933.7" width="2.2" height="3" fill="#ececec" stroke="#6a6a6c" stroke-width="0.4"/>
<rect x="534.9" y="942.9" width="2.2" height="3" fill="#ececec" stroke="#6a6a6c" stroke-width="0.4"/>
<rect x="581.8" y="960.2" width="2.2" height="3" fill="#ececec" stroke="#6a6a6c" stroke-width="0.4"/>
<rect x="606.5" y="969.3" width="2.2" height="3" fill="#ececec" stroke="#6a6a6c" stroke-width="0.4"/>
<rect x="631.3" y="978.5" width="2.2" height="3" fill="#ececec" stroke="#6a6a6c" stroke-width="0.4"/>
<path d="M612.5 658.9 L291.1 548.0 L269.4 588.5 L173.5 555.1 L129.1 569.2 L67.9 675.8 L80.3 680.3 L108.2 631.4 L138.7 642.3 L111.1 691.4 L121.2 695.1 L150.6 642.5 L199.3 659.9 L201.4 656.0 L116.8 625.9 L145.7 575.0 L170.2 567.0 L273.8 603.2 L238.5 669.2 L225.0 664.4 L222.9 668.3 L240.3 674.5 L240.4 674.3 L275.7 608.1 L308.8 619.7 L296.6 643.0 L307.8 646.9 L289.2 682.6 L277.9 678.6 L273.9 686.3 L264.0 682.7 L263.9 682.9 L296.7 694.6 L332.0 626.4 L354.8 634.4 L356.3 631.4 L352.6 630.1 L324.7 620.4 L345.3 580.9 L373.0 590.5 L363.3 609.4 L366.9 610.7 L376.3 592.3 L500.6 635.3 L490.1 657.4 L493.8 658.7 L495.2 655.9 L510.9 661.4 L520.5 640.9 L587.4 664.0 L565.6 712.3 L482.2 683.1 L482.7 682.2 L478.9 680.8 L446.8 748.2 L467.1 755.4 L468.4 752.6 L458.0 748.9 L486.8 688.1 L535.6 705.2 L507.4 766.5 L496.8 762.7 L495.5 765.5 L511.0 771.1 L512.7 767.6 L531.2 727.2 L598.1 750.9 L580.2 791.6 L537.8 776.5 L536.2 780.1 L634.2 815.0 L655.4 765.4 L669.7 770.4 L676.7 753.8 L584.5 721.5Z M296.8 558.5 L340.6 573.6 L325.6 602.4 L281.5 587.1Z M282.7 594.5 L322.5 608.4 L317.7 617.5 L277.9 603.6Z M313.6 620.4 L328.7 625.6 L318.1 646.1 L302.9 640.8Z M497.7 652.9 L505.0 637.4 L516.4 641.4 L509.1 656.9Z M538.4 706.6 L564.8 715.8 L558.0 730.8 L531.6 721.5Z M587.0 790.2 L605.7 747.9 L652.1 764.2 L633.9 806.9Z M75.9 743.4 L54.5 781.3 L109.1 801.6 L116.5 787.9 L77.4 773.5 L99.8 733.3 L89.6 729.6 L85.4 737.1 L54.4 725.7 L58.6 718.3 L46.2 713.7 L37.3 729.2Z M238.3 849.5 L245.4 835.6 L216.7 824.9 L271.9 718.8 L262.6 715.5 L207.1 821.4 L171.2 808.1 L163.8 821.9Z M390.7 906.0 L397.4 891.7 L384.1 886.8 L431.7 786.6 L469.0 800.0 L470.7 796.5 L433.4 783.1 L430.0 781.8 L428.3 785.4 L380.6 885.5 L350.5 874.4 L343.6 888.6Z M480.8 939.5 L487.3 925.0 L462.4 915.8 L510.2 810.7 L501.2 807.4 L453.2 912.4 L446.1 909.7 L439.5 924.1Z M577.3 975.3 L583.5 960.5 L558.3 951.2 L602.6 848.1 L604.2 844.5 L600.6 843.2 L541.6 822.0 L540.0 825.6 L599.1 846.9 L554.6 949.9 L536.7 943.2 L530.3 957.8Z M666.9 1008.5 L757.6 782.2 L713.9 766.8 L706.5 784.7 L711.8 786.6 L739.0 796.2 L720.3 842.6 L692.8 832.9 L697.4 821.7 L697.0 821.5 L693.7 820.4 L692.0 819.8 L686.3 833.6 L688.0 834.2 L684.0 843.9 L687.3 845.0 L691.3 835.4 L719.2 845.3 L704.9 880.7 L633.9 855.2 L632.4 858.8 L703.4 884.4 L661.0 989.2 L633.0 978.8 L626.9 993.7Z " fill="#0b0909" fill-rule="evenodd"/>
<polygon points="676.4,754.5 695.5,728.2 693.8,755 672.8,789.5" fill="url(#gDoor)"/>
<polygon points="676.4,754.5 672.8,789.5 671.2,789 674.6,754" fill="#9a9a9c"/>
<rect x="689.6" y="751" width="1.6" height="3.2" fill="#1f1f21"/>
<path d="M377,593 L500,634 L445,746 L444,780 L299,729 L297.6,695 L332,628 L355,635 Z" fill="none" stroke="#e14f6d" stroke-width="2.5" stroke-dasharray="4.6 3.2"/>
<line x1="289" y1="692.7" x2="217.5" y2="825" stroke="#f29a1c" stroke-width="2" stroke-dasharray="4.2 3"/>
<line x1="430" y1="780.8" x2="671.3" y2="866.3" stroke="#f29a1c" stroke-width="2" stroke-dasharray="4.2 3"/>
<line x1="536" y1="781.3" x2="631.3" y2="814.5" stroke="#f29a1c" stroke-width="2" stroke-dasharray="4.2 3"/>
<g filter="url(#noop)">
<text class="lb3" x="313.1" y="574.5">실외기실</text>
<text class="lb3" x="196.9" y="630.2">드레스룸</text>
<text class="lb3" x="283.75" y="629.7">부부</text>
<text class="lb3" x="282.5" y="648.95">욕실</text>
<text class="lb3" x="548" y="675.45">발코니2</text>
<text class="lb3" x="384.5" y="738.45">주방/식당</text>
<text class="lb3" x="490.5" y="728.95">팬트리</text>
<text class="lb3" x="534.25" y="747.2">공용</text>
<text class="lb3" x="534.25" y="765.95">욕실</text>
<text class="lb3" x="86.25" y="721.45">발코니1</text>
<text class="lb3" x="179.25" y="773.45">안방</text>
<text class="lb3" x="334.25" y="838.95">거실</text>
<text class="lb3" x="440" y="880.95">알파룸</text>
<text class="lb3" x="535.5" y="913.95">침실2</text>
<text class="lb3" x="635" y="950.2">침실1</text>
<text class="lb3" x="670.5" y="827.7">현관</text>
<circle cx="319.25" cy="589.25" r="8.6" fill="#e5901a"/>
<text class="bn2" transform="translate(318.85 594.25) scale(0.78 1)">13</text>
<circle cx="266.25" cy="663.25" r="8.6" fill="#e5901a"/>
<text class="bn2" transform="translate(265.85 668.25) scale(0.78 1)">12</text>
<circle cx="285.5" cy="668.25" r="8.6" fill="#e5901a"/>
<text class="bn2" transform="translate(285.1 673.25) scale(0.78 1)">11</text>
<circle cx="328" cy="664.25" r="8.6" fill="#7766b4"/>
<text class="bn" x="328" y="669.25">5</text>
<circle cx="355.5" cy="692.75" r="8.6" fill="#7766b4"/>
<text class="bn" x="355.5" y="697.75">1</text>
<circle cx="389.25" cy="701.5" r="8.6" fill="#e5901a"/>
<text class="bn" x="389.25" y="706.5">9</text>
<circle cx="446.25" cy="655" r="8.6" fill="#7766b4"/>
<text class="bn" x="446.25" y="660">4</text>
<circle cx="468" cy="657" r="8.6" fill="#7766b4"/>
<text class="bn" x="468" y="662">2</text>
<circle cx="462" cy="676.75" r="8.6" fill="#7766b4"/>
<text class="bn" x="462" y="681.75">3</text>
<circle cx="549.25" cy="693" r="8.6" fill="#1d8f8c"/>
<text class="bn2" transform="translate(548.85 698) scale(0.78 1)">15</text>
<circle cx="393.75" cy="761.75" r="8.6" fill="#dc4d69"/>
<text class="bn" x="393.75" y="766.75">6</text>
<circle cx="562.5" cy="755.5" r="8.6" fill="#e5901a"/>
<text class="bn2" transform="translate(562.1 760.5) scale(0.78 1)">12</text>
<circle cx="582.5" cy="760" r="8.6" fill="#e5901a"/>
<text class="bn2" transform="translate(582.1 765) scale(0.78 1)">11</text>
<circle cx="183" cy="744.5" r="8.6" fill="#e5901a"/>
<text class="bn" x="183" y="749.5">9</text>
<circle cx="161.5" cy="787.5" r="8.6" fill="#7766b4"/>
<text class="bn" x="161.5" y="792.5">1</text>
<circle cx="245.5" cy="770.5" r="8.6" fill="#e5901a"/>
<text class="bn" x="245.5" y="775.5">8</text>
<circle cx="323" cy="800" r="8.6" fill="#e5901a"/>
<text class="bn" x="323" y="805">9</text>
<circle cx="344.25" cy="808" r="8.6" fill="#e5901a"/>
<text class="bn2" transform="translate(343.85 813) scale(0.78 1)">10</text>
<circle cx="304" cy="842" r="8.6" fill="#7766b4"/>
<text class="bn" x="304" y="847">1</text>
<circle cx="420.25" cy="845" r="8.6" fill="#1d8f8c"/>
<text class="bn2" transform="translate(419.85 850) scale(0.78 1)">16</text>
<circle cx="450.25" cy="854.25" r="8.6" fill="#1d8f8c"/>
<text class="bn2" transform="translate(449.85 859.25) scale(0.78 1)">17</text>
<circle cx="437.5" cy="892.5" r="8.6" fill="#7766b4"/>
<text class="bn" x="437.5" y="897.5">1</text>
<circle cx="539.25" cy="887.5" r="8.6" fill="#e5901a"/>
<text class="bn" x="539.25" y="892.5">9</text>
<circle cx="524.25" cy="928" r="8.6" fill="#7766b4"/>
<text class="bn" x="524.25" y="933">1</text>
<circle cx="600.5" cy="803.75" r="8.6" fill="#e5901a"/>
<text class="bn" x="600.5" y="808.75">8</text>
<circle cx="619.25" cy="845.5" r="8.6" fill="#e5901a"/>
<text class="bn" x="619.25" y="850.5">8</text>
<circle cx="660.5" cy="841.75" r="8.6" fill="#e5901a"/>
<text class="bn" x="660.5" y="846.75">7</text>
<circle cx="658.75" cy="903" r="8.6" fill="#1d8f8c"/>
<text class="bn2" transform="translate(658.35 908) scale(0.78 1)">14</text>
<circle cx="635.25" cy="922" r="8.6" fill="#e5901a"/>
<text class="bn" x="635.25" y="927">9</text>
<circle cx="623" cy="964.25" r="8.6" fill="#7766b4"/>
<text class="bn" x="623" y="969.25">1</text>
</g>
</g>
</svg>
<div class="badge" style="left:-0.1px;top:0.5px"><span style="padding-top:21.9px">미확장</span><span>기본형</span></div>
<div class="badge" style="left:629px;top:0.5px"><span style="padding-top:21.9px">확장</span><span>기본형</span></div>
<div class="badge" style="left:-0.1px;top:423px"><span style="padding-top:21.9px">확장</span><span>기본형</span></div>

<section class="legend c1" style="top:0">
  <h2 style="top:423px">가전기기</h2>
  <div class="rule" style="top:457.5px"></div>
  <ul>
    <li style="top:468px"><i>1</i>천장형 시스템에어컨</li>
    <li style="top:492.5px"><i>2</i>빌트인 전기쿡탑</li>
    <li style="top:517px"><i>3</i>빌트인 전기오븐</li>
    <li style="top:542px"><i>4</i>빌트인 식기세척기</li>
    <li style="top:566.5px"><i>5</i>비스포크 패키지 or 오브제 패키지</li>
  </ul>
</section>
<section class="legend c2" style="top:0">
  <h2 style="top:623.5px">주방마감</h2>
  <div class="rule" style="top:658px"></div>
  <ul>
    <li style="top:668px"><i>6</i>주방 업그레이드 or</li>
    <li style="top:690.5px">프리미엄 주방가구</li>
  </ul>
</section>
<section class="legend c3" style="top:0">
  <h2 style="top:749.5px">마감재</h2>
  <div class="rule" style="top:784px"></div>
  <ul>
    <li style="top:794px"><i>7</i>현관중문+복도팬트리</li>
    <li style="top:818.5px">시스템선반 추가</li>
    <li style="top:843px"><i>8</i>마감 업그레이드</li>
    <li style="top:868px"><i>9</i>조명 업그레이드</li>
    <li style="top:893px"><i class="w"><span>10</span></i>거실 우물천장 실링팬</li>
    <li style="top:917.5px"><i class="w"><span>11</span></i>욕실고급화</li>
    <li style="top:942.5px"><i class="w"><span>12</span></i>욕실 스마트 환기팬</li>
    <li style="top:967px"><i class="w"><span>13</span></i>공기청정시스템</li>
  </ul>
</section>
<section class="legend c4" style="top:0">
  <h2 style="top:1024px">공간/가구</h2>
  <div class="rule" style="top:1058px"></div>
  <ul>
    <li style="top:1068.5px"><i class="w"><span>14</span></i>침실1 붙박이장</li>
    <li style="top:1093px"><i class="w"><span>15</span></i>발코니2 시스템선반</li>
    <li style="top:1117.5px"><i class="w"><span>16</span></i>거실·알파룸 통합+라이브러리월</li>
    <li style="top:1142px"><i class="w"><span>17</span></i>알파룸 패밀리 드레스룸</li>
  </ul>
</section>
</body></html>
